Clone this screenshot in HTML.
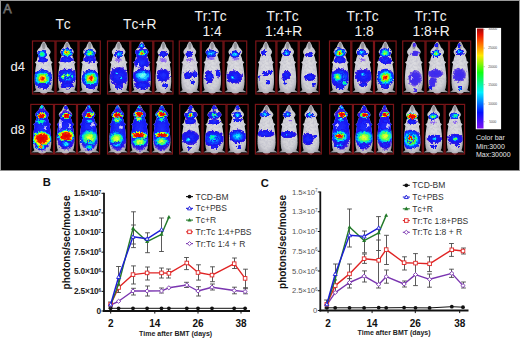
<!DOCTYPE html><html><head><meta charset="utf-8"><style>html,body{margin:0;padding:0;background:#fff;}svg{display:block;} text{font-kerning:none;}</style></head><body><svg width="520" height="342" viewBox="0 0 520 342">
<defs>
<linearGradient id="cbar" x1="0" y1="0" x2="0" y2="1">
<stop offset="0" stop-color="#9a0808"/><stop offset="0.06" stop-color="#e81000"/><stop offset="0.14" stop-color="#ff6000"/>
<stop offset="0.27" stop-color="#ffe800"/><stop offset="0.44" stop-color="#10ff10"/><stop offset="0.64" stop-color="#00f0ff"/>
<stop offset="0.84" stop-color="#0010ff"/><stop offset="1" stop-color="#8010f0"/></linearGradient>
<filter id="rough0" x="-20%" y="-20%" width="140%" height="140%"><feTurbulence type="fractalNoise" baseFrequency="0.45" numOctaves="2" seed="3" result="t"/><feDisplacementMap in="SourceGraphic" in2="t" scale="4" xChannelSelector="R" yChannelSelector="G"/></filter><filter id="rough1" x="-20%" y="-20%" width="140%" height="140%"><feTurbulence type="fractalNoise" baseFrequency="0.45" numOctaves="2" seed="10" result="t"/><feDisplacementMap in="SourceGraphic" in2="t" scale="4" xChannelSelector="R" yChannelSelector="G"/></filter><filter id="rough2" x="-20%" y="-20%" width="140%" height="140%"><feTurbulence type="fractalNoise" baseFrequency="0.45" numOctaves="2" seed="17" result="t"/><feDisplacementMap in="SourceGraphic" in2="t" scale="4" xChannelSelector="R" yChannelSelector="G"/></filter><filter id="rough3" x="-20%" y="-20%" width="140%" height="140%"><feTurbulence type="fractalNoise" baseFrequency="0.45" numOctaves="2" seed="24" result="t"/><feDisplacementMap in="SourceGraphic" in2="t" scale="4" xChannelSelector="R" yChannelSelector="G"/></filter>
<filter id="tex" x="0" y="0" width="100%" height="100%"><feTurbulence type="fractalNoise" baseFrequency="0.45" numOctaves="2" seed="11" result="n"/><feColorMatrix in="n" type="matrix" values="0 0 0 0 0.45  0 0 0 0 0.45  0 0 0 0 0.55  1.2 0 0 0 -0.45" result="nm"/><feComposite in="nm" in2="SourceGraphic" operator="in" result="nc"/><feMerge><feMergeNode in="SourceGraphic"/><feMergeNode in="nc"/></feMerge></filter>
<radialGradient id="red"><stop offset="0" stop-color="#e00000"/><stop offset="0.5" stop-color="#f01000"/><stop offset="0.6" stop-color="#ff8000"/><stop offset="0.68" stop-color="#ffff00"/><stop offset="0.76" stop-color="#40ff40"/><stop offset="0.84" stop-color="#00e0ff"/><stop offset="0.92" stop-color="#1030ff"/><stop offset="1" stop-color="#2010e0" stop-opacity="0"/></radialGradient>
<radialGradient id="hot"><stop offset="0" stop-color="#e00000"/><stop offset="0.15" stop-color="#ff3000"/><stop offset="0.28" stop-color="#ffe000"/><stop offset="0.42" stop-color="#40ff30"/><stop offset="0.56" stop-color="#00e8ff"/><stop offset="0.7" stop-color="#0050ff"/><stop offset="0.88" stop-color="#1818f0"/><stop offset="1" stop-color="#3010e0" stop-opacity="0"/></radialGradient>
<radialGradient id="warm"><stop offset="0" stop-color="#e8ff20"/><stop offset="0.2" stop-color="#80ff30"/><stop offset="0.4" stop-color="#00ffb0"/><stop offset="0.55" stop-color="#00a0ff"/><stop offset="0.7" stop-color="#1030ff"/><stop offset="0.9" stop-color="#1818f0"/><stop offset="1" stop-color="#3010e0" stop-opacity="0"/></radialGradient>
<radialGradient id="yg"><stop offset="0" stop-color="#ffff30"/><stop offset="0.25" stop-color="#c0ff30"/><stop offset="0.45" stop-color="#40ff60"/><stop offset="0.62" stop-color="#00e0e0"/><stop offset="0.78" stop-color="#0060ff"/><stop offset="0.9" stop-color="#1818f0"/><stop offset="1" stop-color="#3010e0" stop-opacity="0"/></radialGradient>
<radialGradient id="wht"><stop offset="0" stop-color="#f4f0f8" stop-opacity="0.95"/><stop offset="0.7" stop-color="#e0d8f0" stop-opacity="0.7"/><stop offset="1" stop-color="#c0b0f0" stop-opacity="0"/></radialGradient>
<radialGradient id="aqua"><stop offset="0" stop-color="#90ffe8"/><stop offset="0.4" stop-color="#40f0ff"/><stop offset="0.75" stop-color="#0090ff"/><stop offset="1" stop-color="#1040ff" stop-opacity="0"/></radialGradient>
<radialGradient id="pb"><stop offset="0" stop-color="#3a28f0"/><stop offset="0.7" stop-color="#4630ea"/><stop offset="0.9" stop-color="#7050e0" stop-opacity="0.8"/><stop offset="1" stop-color="#8060e0" stop-opacity="0"/></radialGradient>
<radialGradient id="green"><stop offset="0" stop-color="#40ff40"/><stop offset="0.3" stop-color="#00ffa0"/><stop offset="0.5" stop-color="#00c0ff"/><stop offset="0.65" stop-color="#1040ff"/><stop offset="0.9" stop-color="#1818f0"/><stop offset="1" stop-color="#3010e0" stop-opacity="0"/></radialGradient>
<radialGradient id="cool"><stop offset="0" stop-color="#60ffff"/><stop offset="0.25" stop-color="#00d0ff"/><stop offset="0.5" stop-color="#0a50ff"/><stop offset="0.75" stop-color="#1418f0"/><stop offset="0.9" stop-color="#2a10e8"/><stop offset="1" stop-color="#3010e0" stop-opacity="0"/></radialGradient>
<radialGradient id="blue"><stop offset="0" stop-color="#2030ff"/><stop offset="0.7" stop-color="#1414f0"/><stop offset="0.9" stop-color="#3010e0" stop-opacity="0.9"/><stop offset="1" stop-color="#5020d0" stop-opacity="0"/></radialGradient>
<radialGradient id="purp"><stop offset="0" stop-color="#8050ff"/><stop offset="0.6" stop-color="#8050f0" stop-opacity="0.7"/><stop offset="1" stop-color="#8050f0" stop-opacity="0"/></radialGradient>
<radialGradient id="body" cx="0.5" cy="0.5" r="0.6"><stop offset="0" stop-color="#dedee2"/><stop offset="0.65" stop-color="#d0d0d6"/><stop offset="1" stop-color="#8a8a90"/></radialGradient>
</defs>
<rect width="520" height="342" fill="#fff"/>
<rect x="0" y="0" width="520" height="1" fill="#9a9a9a"/>
<rect x="0" y="0" width="1" height="171" fill="#9a9a9a"/>
<rect x="1" y="170" width="518" height="1" fill="#8c8c8c"/>
<rect x="519" y="0" width="1" height="171" fill="#9a9a9a"/>
<rect x="1" y="1" width="518" height="169" fill="#000"/>
<text x="3.2" y="13.2" font-size="12.5" font-family="'Liberation Sans', sans-serif" fill="#000" stroke="#7a7a7a" stroke-width="0.75">A</text>
<text x="63.1" y="29.2" font-size="13.8" text-anchor="middle" font-family="'Liberation Sans', sans-serif" fill="#f2f2f2">Tc</text>
<text x="139.8" y="29.2" font-size="13.8" text-anchor="middle" font-family="'Liberation Sans', sans-serif" fill="#f2f2f2">Tc+R</text>
<text x="210.5" y="20.9" font-size="13.8" text-anchor="middle" font-family="'Liberation Sans', sans-serif" fill="#f2f2f2">Tr:Tc</text>
<text x="212" y="36.3" font-size="13.8" text-anchor="middle" font-family="'Liberation Sans', sans-serif" fill="#f2f2f2">1:4</text>
<text x="282.6" y="20.9" font-size="13.8" text-anchor="middle" font-family="'Liberation Sans', sans-serif" fill="#f2f2f2">Tr:Tc</text>
<text x="283.6" y="36.3" font-size="13.8" text-anchor="middle" font-family="'Liberation Sans', sans-serif" fill="#f2f2f2">1:4+R</text>
<text x="362.6" y="20.9" font-size="13.8" text-anchor="middle" font-family="'Liberation Sans', sans-serif" fill="#f2f2f2">Tr:Tc</text>
<text x="364.2" y="36.3" font-size="13.8" text-anchor="middle" font-family="'Liberation Sans', sans-serif" fill="#f2f2f2">1:8</text>
<text x="430.5" y="20.9" font-size="13.8" text-anchor="middle" font-family="'Liberation Sans', sans-serif" fill="#f2f2f2">Tr:Tc</text>
<text x="431.1" y="36.3" font-size="13.8" text-anchor="middle" font-family="'Liberation Sans', sans-serif" fill="#f2f2f2">1:8+R</text>
<text x="10.5" y="71" font-size="13" font-family="'Liberation Sans', sans-serif" fill="#f2f2f2">d4</text>
<text x="10.5" y="133.7" font-size="13" font-family="'Liberation Sans', sans-serif" fill="#f2f2f2">d8</text>
<rect x="475.8" y="27.9" width="25.3" height="101.4" fill="#fff"/>
<rect x="477" y="28.5" width="6.5" height="100" fill="url(#cbar)"/>
<text x="492.7" y="30.4" font-size="3.2" text-anchor="middle" font-family="'Liberation Sans', sans-serif" fill="#444">30000</text>
<line x1="483.5" y1="29.4" x2="485" y2="29.4" stroke="#777" stroke-width="0.4"/>
<text x="492.7" y="49.1" font-size="3.2" text-anchor="middle" font-family="'Liberation Sans', sans-serif" fill="#444">25000</text>
<line x1="483.5" y1="48.1" x2="485" y2="48.1" stroke="#777" stroke-width="0.4"/>
<text x="492.7" y="67.7" font-size="3.2" text-anchor="middle" font-family="'Liberation Sans', sans-serif" fill="#444">20000</text>
<line x1="483.5" y1="66.7" x2="485" y2="66.7" stroke="#777" stroke-width="0.4"/>
<text x="492.7" y="85.6" font-size="3.2" text-anchor="middle" font-family="'Liberation Sans', sans-serif" fill="#444">15000</text>
<line x1="483.5" y1="84.6" x2="485" y2="84.6" stroke="#777" stroke-width="0.4"/>
<text x="492.7" y="105" font-size="3.2" text-anchor="middle" font-family="'Liberation Sans', sans-serif" fill="#444">10000</text>
<line x1="483.5" y1="104" x2="485" y2="104" stroke="#777" stroke-width="0.4"/>
<text x="492.7" y="122.7" font-size="3.2" text-anchor="middle" font-family="'Liberation Sans', sans-serif" fill="#444">5000</text>
<line x1="483.5" y1="121.7" x2="485" y2="121.7" stroke="#777" stroke-width="0.4"/>
<text x="476" y="139.8" font-size="7" font-family="'Liberation Sans', sans-serif" fill="#e8e8e8">Color bar</text>
<text x="476" y="148.6" font-size="7" font-family="'Liberation Sans', sans-serif" fill="#e8e8e8">Min:3000</text>
<text x="476" y="157.4" font-size="7" font-family="'Liberation Sans', sans-serif" fill="#e8e8e8">Max:30000</text>
<clipPath id="mclip"><path d="M 11.5 0.6 C 12.7 1.6 14.2 4 14.9 6.5 C 16 7.8 17.8 9.3 18.2 11 C 18.3 12.5 17.5 13.6 16.6 14.5 C 17.6 16.5 18.2 18.5 18.4 20.5 L 20.2 21.8 L 18.8 23.5 C 19.7 28 20.4 34 20.4 40 C 20.4 44 20 47 19 49.5 L 22.3 51.8 L 15.5 51.5 L 12.2 54 L 10.8 54 L 7.5 51.5 L 0.7 51.8 L 4 49.5 C 3 47 2.6 44 2.6 40 C 2.6 34 3.3 28 4.2 23.5 L 2.8 21.8 L 4.6 20.5 C 4.8 18.5 5.4 16.5 6.4 14.5 C 5.5 13.6 4.7 12.5 4.8 11 C 5.2 9.3 7 7.8 8.1 6.5 C 8.8 4 10.3 1.6 11.5 0.6 Z"/></clipPath>
<g transform="translate(32.00,40.50) scale(1.022,1.000)">
<path d="M 11.5 0.6 C 12.7 1.6 14.2 4 14.9 6.5 C 16 7.8 17.8 9.3 18.2 11 C 18.3 12.5 17.5 13.6 16.6 14.5 C 17.6 16.5 18.2 18.5 18.4 20.5 L 20.2 21.8 L 18.8 23.5 C 19.7 28 20.4 34 20.4 40 C 20.4 44 20 47 19 49.5 L 22.3 51.8 L 15.5 51.5 L 12.2 54 L 10.8 54 L 7.5 51.5 L 0.7 51.8 L 4 49.5 C 3 47 2.6 44 2.6 40 C 2.6 34 3.3 28 4.2 23.5 L 2.8 21.8 L 4.6 20.5 C 4.8 18.5 5.4 16.5 6.4 14.5 C 5.5 13.6 4.7 12.5 4.8 11 C 5.2 9.3 7 7.8 8.1 6.5 C 8.8 4 10.3 1.6 11.5 0.6 Z" fill="url(#body)" filter="url(#tex)"/>
<g clip-path="url(#mclip)">
<ellipse cx="11.5" cy="5.5" rx="1.6" ry="3.2" fill="#6a6a70" opacity="0.55"/>
<g filter="url(#rough0)">
<ellipse cx="9.79" cy="13.7" rx="5.14" ry="4.75" fill="url(#green)"/>
<ellipse cx="10.77" cy="19.5" rx="5.38" ry="2.75" fill="url(#blue)"/>
<ellipse cx="10.28" cy="38" rx="10.23" ry="9.90" fill="url(#hot)"/>
<ellipse cx="10.77" cy="45.5" rx="6.46" ry="3.30" fill="url(#blue)"/>
</g></g></g>
<g transform="translate(55.50,40.50) scale(1.000,1.000)">
<path d="M 11.5 0.6 C 12.7 1.6 14.2 4 14.9 6.5 C 16 7.8 17.8 9.3 18.2 11 C 18.3 12.5 17.5 13.6 16.6 14.5 C 17.6 16.5 18.2 18.5 18.4 20.5 L 20.2 21.8 L 18.8 23.5 C 19.7 28 20.4 34 20.4 40 C 20.4 44 20 47 19 49.5 L 22.3 51.8 L 15.5 51.5 L 12.2 54 L 10.8 54 L 7.5 51.5 L 0.7 51.8 L 4 49.5 C 3 47 2.6 44 2.6 40 C 2.6 34 3.3 28 4.2 23.5 L 2.8 21.8 L 4.6 20.5 C 4.8 18.5 5.4 16.5 6.4 14.5 C 5.5 13.6 4.7 12.5 4.8 11 C 5.2 9.3 7 7.8 8.1 6.5 C 8.8 4 10.3 1.6 11.5 0.6 Z" fill="url(#body)" filter="url(#tex)"/>
<g clip-path="url(#mclip)">
<ellipse cx="11.5" cy="5.5" rx="1.6" ry="3.2" fill="#6a6a70" opacity="0.55"/>
<g filter="url(#rough1)">
<ellipse cx="11.50" cy="12.2" rx="6.25" ry="5.00" fill="url(#hot)"/>
<ellipse cx="11.50" cy="19" rx="7.70" ry="3.30" fill="url(#blue)"/>
<ellipse cx="12.00" cy="36" rx="10.45" ry="8.25" fill="url(#cool)"/>
<ellipse cx="8.00" cy="36" rx="3.30" ry="3.30" fill="url(#warm)"/>
<ellipse cx="12.00" cy="35" rx="3.30" ry="2.75" fill="url(#warm)"/>
<ellipse cx="17.00" cy="36" rx="2.75" ry="2.75" fill="url(#green)"/>
<ellipse cx="11.50" cy="45" rx="7.15" ry="3.30" fill="url(#blue)"/>
</g></g></g>
<g transform="translate(78.50,40.50) scale(0.970,1.000)">
<path d="M 11.5 0.6 C 12.7 1.6 14.2 4 14.9 6.5 C 16 7.8 17.8 9.3 18.2 11 C 18.3 12.5 17.5 13.6 16.6 14.5 C 17.6 16.5 18.2 18.5 18.4 20.5 L 20.2 21.8 L 18.8 23.5 C 19.7 28 20.4 34 20.4 40 C 20.4 44 20 47 19 49.5 L 22.3 51.8 L 15.5 51.5 L 12.2 54 L 10.8 54 L 7.5 51.5 L 0.7 51.8 L 4 49.5 C 3 47 2.6 44 2.6 40 C 2.6 34 3.3 28 4.2 23.5 L 2.8 21.8 L 4.6 20.5 C 4.8 18.5 5.4 16.5 6.4 14.5 C 5.5 13.6 4.7 12.5 4.8 11 C 5.2 9.3 7 7.8 8.1 6.5 C 8.8 4 10.3 1.6 11.5 0.6 Z" fill="url(#body)" filter="url(#tex)"/>
<g clip-path="url(#mclip)">
<ellipse cx="11.5" cy="5.5" rx="1.6" ry="3.2" fill="#6a6a70" opacity="0.55"/>
<g filter="url(#rough2)">
<ellipse cx="11.65" cy="12.9" rx="6.45" ry="4.75" fill="url(#warm)"/>
<ellipse cx="11.86" cy="19" rx="7.37" ry="3.30" fill="url(#blue)"/>
<ellipse cx="12.79" cy="38" rx="10.21" ry="9.35" fill="url(#hot)"/>
<ellipse cx="12.38" cy="46" rx="5.67" ry="2.75" fill="url(#blue)"/>
</g></g></g>
<g transform="translate(107.00,40.50) scale(1.013,1.000)">
<path d="M 11.5 0.6 C 12.7 1.6 14.2 4 14.9 6.5 C 16 7.8 17.8 9.3 18.2 11 C 18.3 12.5 17.5 13.6 16.6 14.5 C 17.6 16.5 18.2 18.5 18.4 20.5 L 20.2 21.8 L 18.8 23.5 C 19.7 28 20.4 34 20.4 40 C 20.4 44 20 47 19 49.5 L 22.3 51.8 L 15.5 51.5 L 12.2 54 L 10.8 54 L 7.5 51.5 L 0.7 51.8 L 4 49.5 C 3 47 2.6 44 2.6 40 C 2.6 34 3.3 28 4.2 23.5 L 2.8 21.8 L 4.6 20.5 C 4.8 18.5 5.4 16.5 6.4 14.5 C 5.5 13.6 4.7 12.5 4.8 11 C 5.2 9.3 7 7.8 8.1 6.5 C 8.8 4 10.3 1.6 11.5 0.6 Z" fill="url(#body)" filter="url(#tex)"/>
<g clip-path="url(#mclip)">
<ellipse cx="11.5" cy="5.5" rx="1.6" ry="3.2" fill="#6a6a70" opacity="0.55"/>
<g filter="url(#rough3)">
<ellipse cx="11.85" cy="13.7" rx="4.44" ry="4.00" fill="url(#cool)"/>
<ellipse cx="10.86" cy="19.5" rx="4.34" ry="2.75" fill="url(#purp)"/>
<ellipse cx="11.85" cy="36" rx="9.77" ry="9.90" fill="url(#blue)"/>
<ellipse cx="9.87" cy="33" rx="2.71" ry="2.20" fill="url(#cool)"/>
<ellipse cx="13.82" cy="37" rx="2.17" ry="2.20" fill="url(#cool)"/>
<ellipse cx="11.85" cy="46" rx="4.34" ry="2.75" fill="url(#blue)"/>
</g></g></g>
<g transform="translate(130.30,40.50) scale(1.000,1.000)">
<path d="M 11.5 0.6 C 12.7 1.6 14.2 4 14.9 6.5 C 16 7.8 17.8 9.3 18.2 11 C 18.3 12.5 17.5 13.6 16.6 14.5 C 17.6 16.5 18.2 18.5 18.4 20.5 L 20.2 21.8 L 18.8 23.5 C 19.7 28 20.4 34 20.4 40 C 20.4 44 20 47 19 49.5 L 22.3 51.8 L 15.5 51.5 L 12.2 54 L 10.8 54 L 7.5 51.5 L 0.7 51.8 L 4 49.5 C 3 47 2.6 44 2.6 40 C 2.6 34 3.3 28 4.2 23.5 L 2.8 21.8 L 4.6 20.5 C 4.8 18.5 5.4 16.5 6.4 14.5 C 5.5 13.6 4.7 12.5 4.8 11 C 5.2 9.3 7 7.8 8.1 6.5 C 8.8 4 10.3 1.6 11.5 0.6 Z" fill="url(#body)" filter="url(#tex)"/>
<g clip-path="url(#mclip)">
<ellipse cx="11.5" cy="5.5" rx="1.6" ry="3.2" fill="#6a6a70" opacity="0.55"/>
<g filter="url(#rough0)">
<ellipse cx="11.30" cy="5.2" rx="3.52" ry="3.30" fill="url(#cool)"/>
<ellipse cx="11.50" cy="13" rx="10.00" ry="5.00" fill="url(#blue)"/>
<ellipse cx="12.00" cy="12.5" rx="5.62" ry="3.75" fill="url(#hot)"/>
<ellipse cx="11.50" cy="22" rx="8.80" ry="6.60" fill="url(#blue)"/>
<ellipse cx="12.50" cy="36" rx="10.45" ry="8.80" fill="url(#cool)"/>
<ellipse cx="12.00" cy="35" rx="7.70" ry="4.95" fill="url(#aqua)"/>
<ellipse cx="12.00" cy="45" rx="8.80" ry="4.40" fill="url(#blue)"/>
<ellipse cx="8.00" cy="25" rx="2.00" ry="2.50" fill="url(#wht)"/>
<ellipse cx="15.00" cy="27" rx="2.00" ry="2.00" fill="url(#wht)"/>
</g></g></g>
<g transform="translate(153.30,40.50) scale(0.878,1.000)">
<path d="M 11.5 0.6 C 12.7 1.6 14.2 4 14.9 6.5 C 16 7.8 17.8 9.3 18.2 11 C 18.3 12.5 17.5 13.6 16.6 14.5 C 17.6 16.5 18.2 18.5 18.4 20.5 L 20.2 21.8 L 18.8 23.5 C 19.7 28 20.4 34 20.4 40 C 20.4 44 20 47 19 49.5 L 22.3 51.8 L 15.5 51.5 L 12.2 54 L 10.8 54 L 7.5 51.5 L 0.7 51.8 L 4 49.5 C 3 47 2.6 44 2.6 40 C 2.6 34 3.3 28 4.2 23.5 L 2.8 21.8 L 4.6 20.5 C 4.8 18.5 5.4 16.5 6.4 14.5 C 5.5 13.6 4.7 12.5 4.8 11 C 5.2 9.3 7 7.8 8.1 6.5 C 8.8 4 10.3 1.6 11.5 0.6 Z" fill="url(#body)" filter="url(#tex)"/>
<g clip-path="url(#mclip)">
<ellipse cx="11.5" cy="5.5" rx="1.6" ry="3.2" fill="#6a6a70" opacity="0.55"/>
<g filter="url(#rough1)">
<ellipse cx="11.39" cy="13.7" rx="5.12" ry="3.38" fill="url(#blue)"/>
<ellipse cx="11.39" cy="19.5" rx="5.01" ry="2.75" fill="url(#purp)"/>
<ellipse cx="11.39" cy="35" rx="8.14" ry="7.15" fill="url(#blue)"/>
<ellipse cx="13.66" cy="45" rx="3.76" ry="2.75" fill="url(#blue)"/>
</g></g></g>
<g transform="translate(178.80,40.50) scale(0.957,1.000)">
<path d="M 11.5 0.6 C 12.7 1.6 14.2 4 14.9 6.5 C 16 7.8 17.8 9.3 18.2 11 C 18.3 12.5 17.5 13.6 16.6 14.5 C 17.6 16.5 18.2 18.5 18.4 20.5 L 20.2 21.8 L 18.8 23.5 C 19.7 28 20.4 34 20.4 40 C 20.4 44 20 47 19 49.5 L 22.3 51.8 L 15.5 51.5 L 12.2 54 L 10.8 54 L 7.5 51.5 L 0.7 51.8 L 4 49.5 C 3 47 2.6 44 2.6 40 C 2.6 34 3.3 28 4.2 23.5 L 2.8 21.8 L 4.6 20.5 C 4.8 18.5 5.4 16.5 6.4 14.5 C 5.5 13.6 4.7 12.5 4.8 11 C 5.2 9.3 7 7.8 8.1 6.5 C 8.8 4 10.3 1.6 11.5 0.6 Z" fill="url(#body)" filter="url(#tex)"/>
<g clip-path="url(#mclip)">
<ellipse cx="11.5" cy="5.5" rx="1.6" ry="3.2" fill="#6a6a70" opacity="0.55"/>
<g filter="url(#rough2)">
<ellipse cx="10.98" cy="13.7" rx="4.31" ry="3.12" fill="url(#blue)"/>
<ellipse cx="11.50" cy="19.5" rx="4.60" ry="2.20" fill="url(#purp)"/>
<ellipse cx="10.04" cy="34.6" rx="4.83" ry="4.07" fill="url(#blue)"/>
<ellipse cx="16.73" cy="33.8" rx="3.11" ry="3.30" fill="url(#blue)"/>
<ellipse cx="14.74" cy="42.1" rx="2.53" ry="2.42" fill="url(#blue)"/>
<ellipse cx="7.53" cy="37" rx="1.73" ry="1.65" fill="url(#blue)"/>
</g></g></g>
<g transform="translate(200.80,40.50) scale(0.987,1.000)">
<path d="M 11.5 0.6 C 12.7 1.6 14.2 4 14.9 6.5 C 16 7.8 17.8 9.3 18.2 11 C 18.3 12.5 17.5 13.6 16.6 14.5 C 17.6 16.5 18.2 18.5 18.4 20.5 L 20.2 21.8 L 18.8 23.5 C 19.7 28 20.4 34 20.4 40 C 20.4 44 20 47 19 49.5 L 22.3 51.8 L 15.5 51.5 L 12.2 54 L 10.8 54 L 7.5 51.5 L 0.7 51.8 L 4 49.5 C 3 47 2.6 44 2.6 40 C 2.6 34 3.3 28 4.2 23.5 L 2.8 21.8 L 4.6 20.5 C 4.8 18.5 5.4 16.5 6.4 14.5 C 5.5 13.6 4.7 12.5 4.8 11 C 5.2 9.3 7 7.8 8.1 6.5 C 8.8 4 10.3 1.6 11.5 0.6 Z" fill="url(#body)" filter="url(#tex)"/>
<g clip-path="url(#mclip)">
<ellipse cx="11.5" cy="5.5" rx="1.6" ry="3.2" fill="#6a6a70" opacity="0.55"/>
<g filter="url(#rough3)">
<ellipse cx="10.23" cy="12.9" rx="6.33" ry="4.12" fill="url(#cool)"/>
<ellipse cx="10.23" cy="17.7" rx="4.46" ry="2.20" fill="url(#purp)"/>
<ellipse cx="8.61" cy="36.2" rx="4.68" ry="6.82" fill="url(#blue)"/>
<ellipse cx="17.63" cy="33" rx="2.79" ry="4.40" fill="url(#blue)"/>
</g></g></g>
<g transform="translate(223.50,40.50) scale(1.030,1.000)">
<path d="M 11.5 0.6 C 12.7 1.6 14.2 4 14.9 6.5 C 16 7.8 17.8 9.3 18.2 11 C 18.3 12.5 17.5 13.6 16.6 14.5 C 17.6 16.5 18.2 18.5 18.4 20.5 L 20.2 21.8 L 18.8 23.5 C 19.7 28 20.4 34 20.4 40 C 20.4 44 20 47 19 49.5 L 22.3 51.8 L 15.5 51.5 L 12.2 54 L 10.8 54 L 7.5 51.5 L 0.7 51.8 L 4 49.5 C 3 47 2.6 44 2.6 40 C 2.6 34 3.3 28 4.2 23.5 L 2.8 21.8 L 4.6 20.5 C 4.8 18.5 5.4 16.5 6.4 14.5 C 5.5 13.6 4.7 12.5 4.8 11 C 5.2 9.3 7 7.8 8.1 6.5 C 8.8 4 10.3 1.6 11.5 0.6 Z" fill="url(#body)" filter="url(#tex)"/>
<g clip-path="url(#mclip)">
<ellipse cx="11.5" cy="5.5" rx="1.6" ry="3.2" fill="#6a6a70" opacity="0.55"/>
<g filter="url(#rough0)">
<ellipse cx="11.26" cy="13.7" rx="5.22" ry="4.00" fill="url(#cool)"/>
<ellipse cx="11.26" cy="18.5" rx="3.74" ry="1.98" fill="url(#purp)"/>
<ellipse cx="10.48" cy="36.6" rx="8.01" ry="7.15" fill="url(#blue)"/>
<ellipse cx="8.73" cy="37" rx="2.67" ry="2.75" fill="url(#cool)"/>
</g></g></g>
<g transform="translate(255.30,40.50) scale(0.917,1.000)">
<path d="M 11.5 0.6 C 12.7 1.6 14.2 4 14.9 6.5 C 16 7.8 17.8 9.3 18.2 11 C 18.3 12.5 17.5 13.6 16.6 14.5 C 17.6 16.5 18.2 18.5 18.4 20.5 L 20.2 21.8 L 18.8 23.5 C 19.7 28 20.4 34 20.4 40 C 20.4 44 20 47 19 49.5 L 22.3 51.8 L 15.5 51.5 L 12.2 54 L 10.8 54 L 7.5 51.5 L 0.7 51.8 L 4 49.5 C 3 47 2.6 44 2.6 40 C 2.6 34 3.3 28 4.2 23.5 L 2.8 21.8 L 4.6 20.5 C 4.8 18.5 5.4 16.5 6.4 14.5 C 5.5 13.6 4.7 12.5 4.8 11 C 5.2 9.3 7 7.8 8.1 6.5 C 8.8 4 10.3 1.6 11.5 0.6 Z" fill="url(#body)" filter="url(#tex)"/>
<g clip-path="url(#mclip)">
<ellipse cx="11.5" cy="5.5" rx="1.6" ry="3.2" fill="#6a6a70" opacity="0.55"/>
<g filter="url(#rough1)">
<ellipse cx="9.59" cy="12.1" rx="3.54" ry="2.62" fill="url(#blue)"/>
<ellipse cx="10.57" cy="33" rx="3.84" ry="2.97" fill="url(#blue)"/>
<ellipse cx="16.13" cy="31.4" rx="2.64" ry="2.42" fill="url(#blue)"/>
<ellipse cx="4.36" cy="37" rx="1.80" ry="2.20" fill="url(#blue)"/>
<ellipse cx="14.06" cy="41.8" rx="2.64" ry="2.42" fill="url(#blue)"/>
</g></g></g>
<g transform="translate(276.40,40.50) scale(0.970,1.000)">
<path d="M 11.5 0.6 C 12.7 1.6 14.2 4 14.9 6.5 C 16 7.8 17.8 9.3 18.2 11 C 18.3 12.5 17.5 13.6 16.6 14.5 C 17.6 16.5 18.2 18.5 18.4 20.5 L 20.2 21.8 L 18.8 23.5 C 19.7 28 20.4 34 20.4 40 C 20.4 44 20 47 19 49.5 L 22.3 51.8 L 15.5 51.5 L 12.2 54 L 10.8 54 L 7.5 51.5 L 0.7 51.8 L 4 49.5 C 3 47 2.6 44 2.6 40 C 2.6 34 3.3 28 4.2 23.5 L 2.8 21.8 L 4.6 20.5 C 4.8 18.5 5.4 16.5 6.4 14.5 C 5.5 13.6 4.7 12.5 4.8 11 C 5.2 9.3 7 7.8 8.1 6.5 C 8.8 4 10.3 1.6 11.5 0.6 Z" fill="url(#body)" filter="url(#tex)"/>
<g clip-path="url(#mclip)">
<ellipse cx="11.5" cy="5.5" rx="1.6" ry="3.2" fill="#6a6a70" opacity="0.55"/>
<g filter="url(#rough2)">
<ellipse cx="10.42" cy="12.5" rx="4.64" ry="3.25" fill="url(#cool)"/>
<ellipse cx="10.42" cy="34.6" rx="4.77" ry="4.62" fill="url(#blue)"/>
<ellipse cx="7.94" cy="38.6" rx="2.95" ry="2.86" fill="url(#blue)"/>
<ellipse cx="8.77" cy="42.6" rx="1.82" ry="1.76" fill="url(#blue)"/>
</g></g></g>
<g transform="translate(298.70,40.50) scale(0.917,1.000)">
<path d="M 11.5 0.6 C 12.7 1.6 14.2 4 14.9 6.5 C 16 7.8 17.8 9.3 18.2 11 C 18.3 12.5 17.5 13.6 16.6 14.5 C 17.6 16.5 18.2 18.5 18.4 20.5 L 20.2 21.8 L 18.8 23.5 C 19.7 28 20.4 34 20.4 40 C 20.4 44 20 47 19 49.5 L 22.3 51.8 L 15.5 51.5 L 12.2 54 L 10.8 54 L 7.5 51.5 L 0.7 51.8 L 4 49.5 C 3 47 2.6 44 2.6 40 C 2.6 34 3.3 28 4.2 23.5 L 2.8 21.8 L 4.6 20.5 C 4.8 18.5 5.4 16.5 6.4 14.5 C 5.5 13.6 4.7 12.5 4.8 11 C 5.2 9.3 7 7.8 8.1 6.5 C 8.8 4 10.3 1.6 11.5 0.6 Z" fill="url(#body)" filter="url(#tex)"/>
<g clip-path="url(#mclip)">
<ellipse cx="11.5" cy="5.5" rx="1.6" ry="3.2" fill="#6a6a70" opacity="0.55"/>
<g filter="url(#rough3)">
<ellipse cx="11.88" cy="14.2" rx="4.36" ry="2.62" fill="url(#blue)"/>
<ellipse cx="12.32" cy="36.7" rx="6.59" ry="4.07" fill="url(#blue)"/>
<ellipse cx="16.13" cy="44.2" rx="2.52" ry="2.31" fill="url(#blue)"/>
</g></g></g>
<g transform="translate(329.00,40.50) scale(0.970,1.000)">
<path d="M 11.5 0.6 C 12.7 1.6 14.2 4 14.9 6.5 C 16 7.8 17.8 9.3 18.2 11 C 18.3 12.5 17.5 13.6 16.6 14.5 C 17.6 16.5 18.2 18.5 18.4 20.5 L 20.2 21.8 L 18.8 23.5 C 19.7 28 20.4 34 20.4 40 C 20.4 44 20 47 19 49.5 L 22.3 51.8 L 15.5 51.5 L 12.2 54 L 10.8 54 L 7.5 51.5 L 0.7 51.8 L 4 49.5 C 3 47 2.6 44 2.6 40 C 2.6 34 3.3 28 4.2 23.5 L 2.8 21.8 L 4.6 20.5 C 4.8 18.5 5.4 16.5 6.4 14.5 C 5.5 13.6 4.7 12.5 4.8 11 C 5.2 9.3 7 7.8 8.1 6.5 C 8.8 4 10.3 1.6 11.5 0.6 Z" fill="url(#body)" filter="url(#tex)"/>
<g clip-path="url(#mclip)">
<ellipse cx="11.5" cy="5.5" rx="1.6" ry="3.2" fill="#6a6a70" opacity="0.55"/>
<g filter="url(#rough0)">
<ellipse cx="10.83" cy="12.5" rx="6.70" ry="5.00" fill="url(#hot)"/>
<ellipse cx="10.83" cy="19.5" rx="6.81" ry="3.85" fill="url(#blue)"/>
<ellipse cx="11.35" cy="37" rx="10.78" ry="9.90" fill="url(#cool)"/>
<ellipse cx="8.77" cy="36.5" rx="6.81" ry="6.05" fill="url(#warm)"/>
<ellipse cx="15.78" cy="42.6" rx="3.40" ry="3.30" fill="url(#green)"/>
<ellipse cx="11.35" cy="47" rx="5.67" ry="2.20" fill="url(#blue)"/>
</g></g></g>
<g transform="translate(351.30,40.50) scale(0.987,1.000)">
<path d="M 11.5 0.6 C 12.7 1.6 14.2 4 14.9 6.5 C 16 7.8 17.8 9.3 18.2 11 C 18.3 12.5 17.5 13.6 16.6 14.5 C 17.6 16.5 18.2 18.5 18.4 20.5 L 20.2 21.8 L 18.8 23.5 C 19.7 28 20.4 34 20.4 40 C 20.4 44 20 47 19 49.5 L 22.3 51.8 L 15.5 51.5 L 12.2 54 L 10.8 54 L 7.5 51.5 L 0.7 51.8 L 4 49.5 C 3 47 2.6 44 2.6 40 C 2.6 34 3.3 28 4.2 23.5 L 2.8 21.8 L 4.6 20.5 C 4.8 18.5 5.4 16.5 6.4 14.5 C 5.5 13.6 4.7 12.5 4.8 11 C 5.2 9.3 7 7.8 8.1 6.5 C 8.8 4 10.3 1.6 11.5 0.6 Z" fill="url(#body)" filter="url(#tex)"/>
<g clip-path="url(#mclip)">
<ellipse cx="11.5" cy="5.5" rx="1.6" ry="3.2" fill="#6a6a70" opacity="0.55"/>
<g filter="url(#rough1)">
<ellipse cx="10.74" cy="12" rx="5.70" ry="3.50" fill="url(#cool)"/>
<ellipse cx="11.55" cy="19.3" rx="3.34" ry="1.65" fill="url(#purp)"/>
<ellipse cx="12.46" cy="35.4" rx="9.47" ry="7.48" fill="url(#blue)"/>
<ellipse cx="11.55" cy="33.8" rx="3.34" ry="3.30" fill="url(#cool)"/>
<ellipse cx="12.16" cy="44" rx="4.46" ry="2.75" fill="url(#blue)"/>
</g></g></g>
<g transform="translate(374.00,40.50) scale(0.983,1.000)">
<path d="M 11.5 0.6 C 12.7 1.6 14.2 4 14.9 6.5 C 16 7.8 17.8 9.3 18.2 11 C 18.3 12.5 17.5 13.6 16.6 14.5 C 17.6 16.5 18.2 18.5 18.4 20.5 L 20.2 21.8 L 18.8 23.5 C 19.7 28 20.4 34 20.4 40 C 20.4 44 20 47 19 49.5 L 22.3 51.8 L 15.5 51.5 L 12.2 54 L 10.8 54 L 7.5 51.5 L 0.7 51.8 L 4 49.5 C 3 47 2.6 44 2.6 40 C 2.6 34 3.3 28 4.2 23.5 L 2.8 21.8 L 4.6 20.5 C 4.8 18.5 5.4 16.5 6.4 14.5 C 5.5 13.6 4.7 12.5 4.8 11 C 5.2 9.3 7 7.8 8.1 6.5 C 8.8 4 10.3 1.6 11.5 0.6 Z" fill="url(#body)" filter="url(#tex)"/>
<g clip-path="url(#mclip)">
<ellipse cx="11.5" cy="5.5" rx="1.6" ry="3.2" fill="#6a6a70" opacity="0.55"/>
<g filter="url(#rough2)">
<ellipse cx="11.09" cy="12.5" rx="6.62" ry="5.00" fill="url(#warm)"/>
<ellipse cx="11.70" cy="20" rx="7.28" ry="3.85" fill="url(#blue)"/>
<ellipse cx="11.70" cy="37" rx="9.52" ry="9.35" fill="url(#hot)"/>
<ellipse cx="11.19" cy="46" rx="4.48" ry="2.75" fill="url(#blue)"/>
</g></g></g>
<g transform="translate(402.20,40.50) scale(1.013,1.000)">
<path d="M 11.5 0.6 C 12.7 1.6 14.2 4 14.9 6.5 C 16 7.8 17.8 9.3 18.2 11 C 18.3 12.5 17.5 13.6 16.6 14.5 C 17.6 16.5 18.2 18.5 18.4 20.5 L 20.2 21.8 L 18.8 23.5 C 19.7 28 20.4 34 20.4 40 C 20.4 44 20 47 19 49.5 L 22.3 51.8 L 15.5 51.5 L 12.2 54 L 10.8 54 L 7.5 51.5 L 0.7 51.8 L 4 49.5 C 3 47 2.6 44 2.6 40 C 2.6 34 3.3 28 4.2 23.5 L 2.8 21.8 L 4.6 20.5 C 4.8 18.5 5.4 16.5 6.4 14.5 C 5.5 13.6 4.7 12.5 4.8 11 C 5.2 9.3 7 7.8 8.1 6.5 C 8.8 4 10.3 1.6 11.5 0.6 Z" fill="url(#body)" filter="url(#tex)"/>
<g clip-path="url(#mclip)">
<ellipse cx="11.5" cy="5.5" rx="1.6" ry="3.2" fill="#6a6a70" opacity="0.55"/>
<g filter="url(#rough3)">
<ellipse cx="11.85" cy="4.8" rx="1.74" ry="2.75" fill="url(#pb)"/>
<ellipse cx="12.73" cy="12.9" rx="4.94" ry="3.12" fill="url(#pb)"/>
<ellipse cx="12.73" cy="37.8" rx="7.06" ry="8.80" fill="url(#pb)"/>
<ellipse cx="12.73" cy="49.9" rx="2.17" ry="2.20" fill="url(#pb)"/>
<ellipse cx="9.87" cy="38" rx="1.48" ry="2.00" fill="url(#wht)"/>
</g></g></g>
<g transform="translate(425.50,40.50) scale(1.022,1.000)">
<path d="M 11.5 0.6 C 12.7 1.6 14.2 4 14.9 6.5 C 16 7.8 17.8 9.3 18.2 11 C 18.3 12.5 17.5 13.6 16.6 14.5 C 17.6 16.5 18.2 18.5 18.4 20.5 L 20.2 21.8 L 18.8 23.5 C 19.7 28 20.4 34 20.4 40 C 20.4 44 20 47 19 49.5 L 22.3 51.8 L 15.5 51.5 L 12.2 54 L 10.8 54 L 7.5 51.5 L 0.7 51.8 L 4 49.5 C 3 47 2.6 44 2.6 40 C 2.6 34 3.3 28 4.2 23.5 L 2.8 21.8 L 4.6 20.5 C 4.8 18.5 5.4 16.5 6.4 14.5 C 5.5 13.6 4.7 12.5 4.8 11 C 5.2 9.3 7 7.8 8.1 6.5 C 8.8 4 10.3 1.6 11.5 0.6 Z" fill="url(#body)" filter="url(#tex)"/>
<g clip-path="url(#mclip)">
<ellipse cx="11.5" cy="5.5" rx="1.6" ry="3.2" fill="#6a6a70" opacity="0.55"/>
<g filter="url(#rough0)">
<ellipse cx="10.28" cy="4.8" rx="2.69" ry="2.75" fill="url(#blue)"/>
<ellipse cx="10.28" cy="12.9" rx="5.14" ry="4.12" fill="url(#warm)"/>
<ellipse cx="9.49" cy="33" rx="8.61" ry="4.95" fill="url(#pb)"/>
<ellipse cx="7.05" cy="41.8" rx="4.31" ry="5.50" fill="url(#pb)"/>
<ellipse cx="4.70" cy="46.7" rx="2.15" ry="2.20" fill="url(#blue)"/>
</g></g></g>
<g transform="translate(449.00,40.50) scale(0.965,1.000)">
<path d="M 11.5 0.6 C 12.7 1.6 14.2 4 14.9 6.5 C 16 7.8 17.8 9.3 18.2 11 C 18.3 12.5 17.5 13.6 16.6 14.5 C 17.6 16.5 18.2 18.5 18.4 20.5 L 20.2 21.8 L 18.8 23.5 C 19.7 28 20.4 34 20.4 40 C 20.4 44 20 47 19 49.5 L 22.3 51.8 L 15.5 51.5 L 12.2 54 L 10.8 54 L 7.5 51.5 L 0.7 51.8 L 4 49.5 C 3 47 2.6 44 2.6 40 C 2.6 34 3.3 28 4.2 23.5 L 2.8 21.8 L 4.6 20.5 C 4.8 18.5 5.4 16.5 6.4 14.5 C 5.5 13.6 4.7 12.5 4.8 11 C 5.2 9.3 7 7.8 8.1 6.5 C 8.8 4 10.3 1.6 11.5 0.6 Z" fill="url(#body)" filter="url(#tex)"/>
<g clip-path="url(#mclip)">
<ellipse cx="11.5" cy="5.5" rx="1.6" ry="3.2" fill="#6a6a70" opacity="0.55"/>
<g filter="url(#rough1)">
<ellipse cx="10.67" cy="4.8" rx="2.28" ry="2.20" fill="url(#blue)"/>
<ellipse cx="11.19" cy="11.6" rx="4.66" ry="3.25" fill="url(#cool)"/>
<ellipse cx="10.67" cy="34.6" rx="7.41" ry="7.70" fill="url(#pb)"/>
<ellipse cx="11.50" cy="47.5" rx="2.51" ry="2.42" fill="url(#cool)"/>
</g></g></g>
<g transform="translate(30.30,103.90) scale(1.030,0.937)">
<path d="M 11.5 0.6 C 12.7 1.6 14.2 4 14.9 6.5 C 16 7.8 17.8 9.3 18.2 11 C 18.3 12.5 17.5 13.6 16.6 14.5 C 17.6 16.5 18.2 18.5 18.4 20.5 L 20.2 21.8 L 18.8 23.5 C 19.7 28 20.4 34 20.4 40 C 20.4 44 20 47 19 49.5 L 22.3 51.8 L 15.5 51.5 L 12.2 54 L 10.8 54 L 7.5 51.5 L 0.7 51.8 L 4 49.5 C 3 47 2.6 44 2.6 40 C 2.6 34 3.3 28 4.2 23.5 L 2.8 21.8 L 4.6 20.5 C 4.8 18.5 5.4 16.5 6.4 14.5 C 5.5 13.6 4.7 12.5 4.8 11 C 5.2 9.3 7 7.8 8.1 6.5 C 8.8 4 10.3 1.6 11.5 0.6 Z" fill="url(#body)" filter="url(#tex)"/>
<g clip-path="url(#mclip)">
<ellipse cx="11.5" cy="5.5" rx="1.6" ry="3.2" fill="#6a6a70" opacity="0.55"/>
<g filter="url(#rough2)">
<ellipse cx="11.16" cy="27" rx="10.68" ry="24.20" fill="url(#blue)"/>
<ellipse cx="10.87" cy="3.2" rx="2.35" ry="3.30" fill="url(#green)"/>
<ellipse cx="10.87" cy="10.5" rx="10.92" ry="3.75" fill="url(#blue)"/>
<ellipse cx="10.87" cy="12.8" rx="5.46" ry="4.12" fill="url(#red)"/>
<ellipse cx="10.09" cy="19" rx="6.41" ry="3.85" fill="url(#green)"/>
<ellipse cx="11.16" cy="37" rx="10.14" ry="8.80" fill="url(#red)"/>
<ellipse cx="10.09" cy="46" rx="5.34" ry="3.30" fill="url(#hot)"/>
<ellipse cx="14.56" cy="26" rx="1.94" ry="2.50" fill="url(#wht)"/>
</g></g></g>
<g transform="translate(54.00,103.90) scale(1.000,0.937)">
<path d="M 11.5 0.6 C 12.7 1.6 14.2 4 14.9 6.5 C 16 7.8 17.8 9.3 18.2 11 C 18.3 12.5 17.5 13.6 16.6 14.5 C 17.6 16.5 18.2 18.5 18.4 20.5 L 20.2 21.8 L 18.8 23.5 C 19.7 28 20.4 34 20.4 40 C 20.4 44 20 47 19 49.5 L 22.3 51.8 L 15.5 51.5 L 12.2 54 L 10.8 54 L 7.5 51.5 L 0.7 51.8 L 4 49.5 C 3 47 2.6 44 2.6 40 C 2.6 34 3.3 28 4.2 23.5 L 2.8 21.8 L 4.6 20.5 C 4.8 18.5 5.4 16.5 6.4 14.5 C 5.5 13.6 4.7 12.5 4.8 11 C 5.2 9.3 7 7.8 8.1 6.5 C 8.8 4 10.3 1.6 11.5 0.6 Z" fill="url(#body)" filter="url(#tex)"/>
<g clip-path="url(#mclip)">
<ellipse cx="11.5" cy="5.5" rx="1.6" ry="3.2" fill="#6a6a70" opacity="0.55"/>
<g filter="url(#rough3)">
<ellipse cx="12.00" cy="28" rx="11.00" ry="22.00" fill="url(#blue)"/>
<ellipse cx="12.10" cy="4" rx="2.20" ry="2.75" fill="url(#blue)"/>
<ellipse cx="12.10" cy="12.8" rx="5.00" ry="3.75" fill="url(#red)"/>
<ellipse cx="12.10" cy="34.2" rx="9.35" ry="7.15" fill="url(#red)"/>
<ellipse cx="12.00" cy="43" rx="6.60" ry="4.40" fill="url(#cool)"/>
<ellipse cx="6.50" cy="22" rx="2.00" ry="7.00" fill="url(#wht)"/>
<ellipse cx="16.00" cy="24" rx="1.50" ry="4.00" fill="url(#wht)"/>
</g></g></g>
<g transform="translate(77.00,103.90) scale(1.004,0.937)">
<path d="M 11.5 0.6 C 12.7 1.6 14.2 4 14.9 6.5 C 16 7.8 17.8 9.3 18.2 11 C 18.3 12.5 17.5 13.6 16.6 14.5 C 17.6 16.5 18.2 18.5 18.4 20.5 L 20.2 21.8 L 18.8 23.5 C 19.7 28 20.4 34 20.4 40 C 20.4 44 20 47 19 49.5 L 22.3 51.8 L 15.5 51.5 L 12.2 54 L 10.8 54 L 7.5 51.5 L 0.7 51.8 L 4 49.5 C 3 47 2.6 44 2.6 40 C 2.6 34 3.3 28 4.2 23.5 L 2.8 21.8 L 4.6 20.5 C 4.8 18.5 5.4 16.5 6.4 14.5 C 5.5 13.6 4.7 12.5 4.8 11 C 5.2 9.3 7 7.8 8.1 6.5 C 8.8 4 10.3 1.6 11.5 0.6 Z" fill="url(#body)" filter="url(#tex)"/>
<g clip-path="url(#mclip)">
<ellipse cx="11.5" cy="5.5" rx="1.6" ry="3.2" fill="#6a6a70" opacity="0.55"/>
<g filter="url(#rough0)">
<ellipse cx="11.95" cy="27" rx="10.95" ry="24.20" fill="url(#blue)"/>
<ellipse cx="12.05" cy="3.2" rx="2.19" ry="3.30" fill="url(#cool)"/>
<ellipse cx="12.05" cy="12" rx="4.98" ry="3.75" fill="url(#red)"/>
<ellipse cx="11.95" cy="18.5" rx="5.48" ry="3.30" fill="url(#cool)"/>
<ellipse cx="12.45" cy="36" rx="10.40" ry="9.90" fill="url(#yg)"/>
<ellipse cx="11.95" cy="40" rx="2.19" ry="2.20" fill="url(#hot)"/>
<ellipse cx="11.95" cy="46" rx="5.48" ry="3.30" fill="url(#green)"/>
<ellipse cx="15.93" cy="22" rx="2.49" ry="3.00" fill="url(#wht)"/>
</g></g></g>
<g transform="translate(107.00,103.90) scale(0.939,0.937)">
<path d="M 11.5 0.6 C 12.7 1.6 14.2 4 14.9 6.5 C 16 7.8 17.8 9.3 18.2 11 C 18.3 12.5 17.5 13.6 16.6 14.5 C 17.6 16.5 18.2 18.5 18.4 20.5 L 20.2 21.8 L 18.8 23.5 C 19.7 28 20.4 34 20.4 40 C 20.4 44 20 47 19 49.5 L 22.3 51.8 L 15.5 51.5 L 12.2 54 L 10.8 54 L 7.5 51.5 L 0.7 51.8 L 4 49.5 C 3 47 2.6 44 2.6 40 C 2.6 34 3.3 28 4.2 23.5 L 2.8 21.8 L 4.6 20.5 C 4.8 18.5 5.4 16.5 6.4 14.5 C 5.5 13.6 4.7 12.5 4.8 11 C 5.2 9.3 7 7.8 8.1 6.5 C 8.8 4 10.3 1.6 11.5 0.6 Z" fill="url(#body)" filter="url(#tex)"/>
<g clip-path="url(#mclip)">
<ellipse cx="11.5" cy="5.5" rx="1.6" ry="3.2" fill="#6a6a70" opacity="0.55"/>
<g filter="url(#rough1)">
<ellipse cx="11.71" cy="27" rx="11.71" ry="24.20" fill="url(#blue)"/>
<ellipse cx="11.07" cy="4" rx="2.34" ry="2.75" fill="url(#cool)"/>
<ellipse cx="11.07" cy="12" rx="5.99" ry="3.75" fill="url(#red)"/>
<ellipse cx="11.07" cy="17.5" rx="6.44" ry="3.30" fill="url(#yg)"/>
<ellipse cx="10.12" cy="37" rx="9.37" ry="8.80" fill="url(#yg)"/>
<ellipse cx="10.65" cy="44" rx="7.03" ry="3.30" fill="url(#cool)"/>
<ellipse cx="14.91" cy="25" rx="2.66" ry="2.50" fill="url(#wht)"/>
</g></g></g>
<g transform="translate(128.60,103.90) scale(0.961,0.937)">
<path d="M 11.5 0.6 C 12.7 1.6 14.2 4 14.9 6.5 C 16 7.8 17.8 9.3 18.2 11 C 18.3 12.5 17.5 13.6 16.6 14.5 C 17.6 16.5 18.2 18.5 18.4 20.5 L 20.2 21.8 L 18.8 23.5 C 19.7 28 20.4 34 20.4 40 C 20.4 44 20 47 19 49.5 L 22.3 51.8 L 15.5 51.5 L 12.2 54 L 10.8 54 L 7.5 51.5 L 0.7 51.8 L 4 49.5 C 3 47 2.6 44 2.6 40 C 2.6 34 3.3 28 4.2 23.5 L 2.8 21.8 L 4.6 20.5 C 4.8 18.5 5.4 16.5 6.4 14.5 C 5.5 13.6 4.7 12.5 4.8 11 C 5.2 9.3 7 7.8 8.1 6.5 C 8.8 4 10.3 1.6 11.5 0.6 Z" fill="url(#body)" filter="url(#tex)"/>
<g clip-path="url(#mclip)">
<ellipse cx="11.5" cy="5.5" rx="1.6" ry="3.2" fill="#6a6a70" opacity="0.55"/>
<g filter="url(#rough2)">
<ellipse cx="11.45" cy="27" rx="12.02" ry="24.20" fill="url(#blue)"/>
<ellipse cx="10.82" cy="4" rx="2.29" ry="2.75" fill="url(#cool)"/>
<ellipse cx="10.82" cy="11" rx="5.85" ry="3.75" fill="url(#red)"/>
<ellipse cx="10.82" cy="16" rx="5.72" ry="2.75" fill="url(#yg)"/>
<ellipse cx="10.82" cy="33.4" rx="9.73" ry="4.40" fill="url(#red)"/>
<ellipse cx="11.45" cy="40.5" rx="9.16" ry="5.50" fill="url(#yg)"/>
</g></g></g>
<g transform="translate(150.70,103.90) scale(0.965,0.937)">
<path d="M 11.5 0.6 C 12.7 1.6 14.2 4 14.9 6.5 C 16 7.8 17.8 9.3 18.2 11 C 18.3 12.5 17.5 13.6 16.6 14.5 C 17.6 16.5 18.2 18.5 18.4 20.5 L 20.2 21.8 L 18.8 23.5 C 19.7 28 20.4 34 20.4 40 C 20.4 44 20 47 19 49.5 L 22.3 51.8 L 15.5 51.5 L 12.2 54 L 10.8 54 L 7.5 51.5 L 0.7 51.8 L 4 49.5 C 3 47 2.6 44 2.6 40 C 2.6 34 3.3 28 4.2 23.5 L 2.8 21.8 L 4.6 20.5 C 4.8 18.5 5.4 16.5 6.4 14.5 C 5.5 13.6 4.7 12.5 4.8 11 C 5.2 9.3 7 7.8 8.1 6.5 C 8.8 4 10.3 1.6 11.5 0.6 Z" fill="url(#body)" filter="url(#tex)"/>
<g clip-path="url(#mclip)">
<ellipse cx="11.5" cy="5.5" rx="1.6" ry="3.2" fill="#6a6a70" opacity="0.55"/>
<g filter="url(#rough3)">
<ellipse cx="11.40" cy="27" rx="11.97" ry="24.20" fill="url(#blue)"/>
<ellipse cx="11.09" cy="4" rx="2.28" ry="2.75" fill="url(#cool)"/>
<ellipse cx="11.09" cy="11" rx="5.83" ry="3.75" fill="url(#red)"/>
<ellipse cx="11.09" cy="16.5" rx="5.70" ry="2.75" fill="url(#green)"/>
<ellipse cx="11.91" cy="33.4" rx="8.55" ry="4.18" fill="url(#red)"/>
<ellipse cx="11.29" cy="40" rx="8.55" ry="5.50" fill="url(#yg)"/>
</g></g></g>
<g transform="translate(179.20,103.90) scale(1.013,0.937)">
<path d="M 11.5 0.6 C 12.7 1.6 14.2 4 14.9 6.5 C 16 7.8 17.8 9.3 18.2 11 C 18.3 12.5 17.5 13.6 16.6 14.5 C 17.6 16.5 18.2 18.5 18.4 20.5 L 20.2 21.8 L 18.8 23.5 C 19.7 28 20.4 34 20.4 40 C 20.4 44 20 47 19 49.5 L 22.3 51.8 L 15.5 51.5 L 12.2 54 L 10.8 54 L 7.5 51.5 L 0.7 51.8 L 4 49.5 C 3 47 2.6 44 2.6 40 C 2.6 34 3.3 28 4.2 23.5 L 2.8 21.8 L 4.6 20.5 C 4.8 18.5 5.4 16.5 6.4 14.5 C 5.5 13.6 4.7 12.5 4.8 11 C 5.2 9.3 7 7.8 8.1 6.5 C 8.8 4 10.3 1.6 11.5 0.6 Z" fill="url(#body)" filter="url(#tex)"/>
<g clip-path="url(#mclip)">
<ellipse cx="11.5" cy="5.5" rx="1.6" ry="3.2" fill="#6a6a70" opacity="0.55"/>
<g filter="url(#rough0)">
<ellipse cx="11.06" cy="4" rx="2.71" ry="2.75" fill="url(#blue)"/>
<ellipse cx="11.06" cy="12" rx="7.40" ry="4.38" fill="url(#blue)"/>
<ellipse cx="11.06" cy="11.9" rx="4.94" ry="3.50" fill="url(#hot)"/>
<ellipse cx="11.06" cy="18.3" rx="5.97" ry="3.85" fill="url(#blue)"/>
<ellipse cx="10.86" cy="36" rx="9.23" ry="8.25" fill="url(#blue)"/>
<ellipse cx="8.88" cy="38.2" rx="3.80" ry="3.85" fill="url(#cool)"/>
<ellipse cx="9.58" cy="47" rx="2.17" ry="2.20" fill="url(#blue)"/>
</g></g></g>
<g transform="translate(202.50,103.90) scale(1.043,0.937)">
<path d="M 11.5 0.6 C 12.7 1.6 14.2 4 14.9 6.5 C 16 7.8 17.8 9.3 18.2 11 C 18.3 12.5 17.5 13.6 16.6 14.5 C 17.6 16.5 18.2 18.5 18.4 20.5 L 20.2 21.8 L 18.8 23.5 C 19.7 28 20.4 34 20.4 40 C 20.4 44 20 47 19 49.5 L 22.3 51.8 L 15.5 51.5 L 12.2 54 L 10.8 54 L 7.5 51.5 L 0.7 51.8 L 4 49.5 C 3 47 2.6 44 2.6 40 C 2.6 34 3.3 28 4.2 23.5 L 2.8 21.8 L 4.6 20.5 C 4.8 18.5 5.4 16.5 6.4 14.5 C 5.5 13.6 4.7 12.5 4.8 11 C 5.2 9.3 7 7.8 8.1 6.5 C 8.8 4 10.3 1.6 11.5 0.6 Z" fill="url(#body)" filter="url(#tex)"/>
<g clip-path="url(#mclip)">
<ellipse cx="11.5" cy="5.5" rx="1.6" ry="3.2" fill="#6a6a70" opacity="0.55"/>
<g filter="url(#rough1)">
<ellipse cx="11.31" cy="4" rx="2.64" ry="2.75" fill="url(#blue)"/>
<ellipse cx="11.31" cy="12" rx="7.79" ry="4.38" fill="url(#blue)"/>
<ellipse cx="11.31" cy="11.9" rx="4.19" ry="3.12" fill="url(#warm)"/>
<ellipse cx="11.31" cy="19.1" rx="5.80" ry="3.08" fill="url(#blue)"/>
<ellipse cx="10.54" cy="37" rx="10.54" ry="8.80" fill="url(#cool)"/>
<ellipse cx="9.87" cy="35.8" rx="5.27" ry="4.40" fill="url(#green)"/>
<ellipse cx="11.50" cy="46" rx="4.22" ry="2.75" fill="url(#blue)"/>
</g></g></g>
<g transform="translate(226.50,103.90) scale(0.961,0.937)">
<path d="M 11.5 0.6 C 12.7 1.6 14.2 4 14.9 6.5 C 16 7.8 17.8 9.3 18.2 11 C 18.3 12.5 17.5 13.6 16.6 14.5 C 17.6 16.5 18.2 18.5 18.4 20.5 L 20.2 21.8 L 18.8 23.5 C 19.7 28 20.4 34 20.4 40 C 20.4 44 20 47 19 49.5 L 22.3 51.8 L 15.5 51.5 L 12.2 54 L 10.8 54 L 7.5 51.5 L 0.7 51.8 L 4 49.5 C 3 47 2.6 44 2.6 40 C 2.6 34 3.3 28 4.2 23.5 L 2.8 21.8 L 4.6 20.5 C 4.8 18.5 5.4 16.5 6.4 14.5 C 5.5 13.6 4.7 12.5 4.8 11 C 5.2 9.3 7 7.8 8.1 6.5 C 8.8 4 10.3 1.6 11.5 0.6 Z" fill="url(#body)" filter="url(#tex)"/>
<g clip-path="url(#mclip)">
<ellipse cx="11.5" cy="5.5" rx="1.6" ry="3.2" fill="#6a6a70" opacity="0.55"/>
<g filter="url(#rough2)">
<ellipse cx="11.34" cy="4" rx="2.29" ry="2.75" fill="url(#blue)"/>
<ellipse cx="11.34" cy="11.9" rx="5.20" ry="3.75" fill="url(#cool)"/>
<ellipse cx="11.34" cy="17.5" rx="5.15" ry="2.42" fill="url(#blue)"/>
<ellipse cx="11.45" cy="34.5" rx="9.73" ry="7.70" fill="url(#cool)"/>
<ellipse cx="12.90" cy="46.2" rx="2.29" ry="2.20" fill="url(#blue)"/>
</g></g></g>
<g transform="translate(254.90,103.90) scale(1.013,0.937)">
<path d="M 11.5 0.6 C 12.7 1.6 14.2 4 14.9 6.5 C 16 7.8 17.8 9.3 18.2 11 C 18.3 12.5 17.5 13.6 16.6 14.5 C 17.6 16.5 18.2 18.5 18.4 20.5 L 20.2 21.8 L 18.8 23.5 C 19.7 28 20.4 34 20.4 40 C 20.4 44 20 47 19 49.5 L 22.3 51.8 L 15.5 51.5 L 12.2 54 L 10.8 54 L 7.5 51.5 L 0.7 51.8 L 4 49.5 C 3 47 2.6 44 2.6 40 C 2.6 34 3.3 28 4.2 23.5 L 2.8 21.8 L 4.6 20.5 C 4.8 18.5 5.4 16.5 6.4 14.5 C 5.5 13.6 4.7 12.5 4.8 11 C 5.2 9.3 7 7.8 8.1 6.5 C 8.8 4 10.3 1.6 11.5 0.6 Z" fill="url(#body)" filter="url(#tex)"/>
<g clip-path="url(#mclip)">
<ellipse cx="11.5" cy="5.5" rx="1.6" ry="3.2" fill="#6a6a70" opacity="0.55"/>
<g filter="url(#rough3)">
<ellipse cx="9.58" cy="11.1" rx="5.18" ry="3.38" fill="url(#cool)"/>
<ellipse cx="10.27" cy="31.8" rx="9.77" ry="4.18" fill="url(#blue)"/>
</g></g></g>
<g transform="translate(278.20,103.90) scale(0.948,0.937)">
<path d="M 11.5 0.6 C 12.7 1.6 14.2 4 14.9 6.5 C 16 7.8 17.8 9.3 18.2 11 C 18.3 12.5 17.5 13.6 16.6 14.5 C 17.6 16.5 18.2 18.5 18.4 20.5 L 20.2 21.8 L 18.8 23.5 C 19.7 28 20.4 34 20.4 40 C 20.4 44 20 47 19 49.5 L 22.3 51.8 L 15.5 51.5 L 12.2 54 L 10.8 54 L 7.5 51.5 L 0.7 51.8 L 4 49.5 C 3 47 2.6 44 2.6 40 C 2.6 34 3.3 28 4.2 23.5 L 2.8 21.8 L 4.6 20.5 C 4.8 18.5 5.4 16.5 6.4 14.5 C 5.5 13.6 4.7 12.5 4.8 11 C 5.2 9.3 7 7.8 8.1 6.5 C 8.8 4 10.3 1.6 11.5 0.6 Z" fill="url(#body)" filter="url(#tex)"/>
<g clip-path="url(#mclip)">
<ellipse cx="11.5" cy="5.5" rx="1.6" ry="3.2" fill="#6a6a70" opacity="0.55"/>
<g filter="url(#rough0)">
<ellipse cx="9.28" cy="11.1" rx="4.88" ry="3.38" fill="url(#cool)"/>
<ellipse cx="10.13" cy="32.6" rx="9.86" ry="4.18" fill="url(#blue)"/>
<ellipse cx="8.44" cy="33" rx="2.32" ry="1.65" fill="url(#cool)"/>
<ellipse cx="12.45" cy="17.5" rx="1.74" ry="1.65" fill="url(#purp)"/>
</g></g></g>
<g transform="translate(300.00,103.90) scale(0.948,0.937)">
<path d="M 11.5 0.6 C 12.7 1.6 14.2 4 14.9 6.5 C 16 7.8 17.8 9.3 18.2 11 C 18.3 12.5 17.5 13.6 16.6 14.5 C 17.6 16.5 18.2 18.5 18.4 20.5 L 20.2 21.8 L 18.8 23.5 C 19.7 28 20.4 34 20.4 40 C 20.4 44 20 47 19 49.5 L 22.3 51.8 L 15.5 51.5 L 12.2 54 L 10.8 54 L 7.5 51.5 L 0.7 51.8 L 4 49.5 C 3 47 2.6 44 2.6 40 C 2.6 34 3.3 28 4.2 23.5 L 2.8 21.8 L 4.6 20.5 C 4.8 18.5 5.4 16.5 6.4 14.5 C 5.5 13.6 4.7 12.5 4.8 11 C 5.2 9.3 7 7.8 8.1 6.5 C 8.8 4 10.3 1.6 11.5 0.6 Z" fill="url(#body)" filter="url(#tex)"/>
<g clip-path="url(#mclip)">
<ellipse cx="11.5" cy="5.5" rx="1.6" ry="3.2" fill="#6a6a70" opacity="0.55"/>
<g filter="url(#rough1)">
<ellipse cx="10.66" cy="11.9" rx="4.88" ry="2.88" fill="url(#cool)"/>
<ellipse cx="8.33" cy="37.4" rx="6.38" ry="7.15" fill="url(#blue)"/>
<ellipse cx="16.25" cy="35" rx="2.32" ry="2.20" fill="url(#blue)"/>
</g></g></g>
<g transform="translate(329.20,103.90) scale(1.030,0.937)">
<path d="M 11.5 0.6 C 12.7 1.6 14.2 4 14.9 6.5 C 16 7.8 17.8 9.3 18.2 11 C 18.3 12.5 17.5 13.6 16.6 14.5 C 17.6 16.5 18.2 18.5 18.4 20.5 L 20.2 21.8 L 18.8 23.5 C 19.7 28 20.4 34 20.4 40 C 20.4 44 20 47 19 49.5 L 22.3 51.8 L 15.5 51.5 L 12.2 54 L 10.8 54 L 7.5 51.5 L 0.7 51.8 L 4 49.5 C 3 47 2.6 44 2.6 40 C 2.6 34 3.3 28 4.2 23.5 L 2.8 21.8 L 4.6 20.5 C 4.8 18.5 5.4 16.5 6.4 14.5 C 5.5 13.6 4.7 12.5 4.8 11 C 5.2 9.3 7 7.8 8.1 6.5 C 8.8 4 10.3 1.6 11.5 0.6 Z" fill="url(#body)" filter="url(#tex)"/>
<g clip-path="url(#mclip)">
<ellipse cx="11.5" cy="5.5" rx="1.6" ry="3.2" fill="#6a6a70" opacity="0.55"/>
<g filter="url(#rough2)">
<ellipse cx="11.65" cy="27" rx="10.68" ry="23.10" fill="url(#blue)"/>
<ellipse cx="12.32" cy="4" rx="2.67" ry="2.75" fill="url(#cool)"/>
<ellipse cx="12.32" cy="11.5" rx="5.46" ry="3.75" fill="url(#red)"/>
<ellipse cx="11.55" cy="16.7" rx="4.80" ry="2.97" fill="url(#cool)"/>
<ellipse cx="10.68" cy="34.5" rx="9.61" ry="8.25" fill="url(#hot)"/>
<ellipse cx="10.09" cy="34.2" rx="5.34" ry="3.08" fill="url(#red)"/>
<ellipse cx="9.70" cy="44" rx="5.34" ry="3.30" fill="url(#cool)"/>
<ellipse cx="7.76" cy="23" rx="1.94" ry="3.00" fill="url(#wht)"/>
</g></g></g>
<g transform="translate(352.90,103.90) scale(0.965,0.937)">
<path d="M 11.5 0.6 C 12.7 1.6 14.2 4 14.9 6.5 C 16 7.8 17.8 9.3 18.2 11 C 18.3 12.5 17.5 13.6 16.6 14.5 C 17.6 16.5 18.2 18.5 18.4 20.5 L 20.2 21.8 L 18.8 23.5 C 19.7 28 20.4 34 20.4 40 C 20.4 44 20 47 19 49.5 L 22.3 51.8 L 15.5 51.5 L 12.2 54 L 10.8 54 L 7.5 51.5 L 0.7 51.8 L 4 49.5 C 3 47 2.6 44 2.6 40 C 2.6 34 3.3 28 4.2 23.5 L 2.8 21.8 L 4.6 20.5 C 4.8 18.5 5.4 16.5 6.4 14.5 C 5.5 13.6 4.7 12.5 4.8 11 C 5.2 9.3 7 7.8 8.1 6.5 C 8.8 4 10.3 1.6 11.5 0.6 Z" fill="url(#body)" filter="url(#tex)"/>
<g clip-path="url(#mclip)">
<ellipse cx="11.5" cy="5.5" rx="1.6" ry="3.2" fill="#6a6a70" opacity="0.55"/>
<g filter="url(#rough3)">
<ellipse cx="11.71" cy="27" rx="10.83" ry="23.10" fill="url(#blue)"/>
<ellipse cx="11.71" cy="4" rx="2.85" ry="2.75" fill="url(#blue)"/>
<ellipse cx="11.71" cy="12" rx="7.12" ry="4.38" fill="url(#blue)"/>
<ellipse cx="11.71" cy="11.9" rx="5.18" ry="3.25" fill="url(#red)"/>
<ellipse cx="11.71" cy="19.1" rx="4.56" ry="2.75" fill="url(#blue)"/>
<ellipse cx="11.71" cy="35.8" rx="10.83" ry="8.80" fill="url(#yg)"/>
<ellipse cx="11.40" cy="45" rx="5.70" ry="3.30" fill="url(#blue)"/>
<ellipse cx="15.54" cy="23" rx="2.07" ry="3.00" fill="url(#wht)"/>
</g></g></g>
<g transform="translate(375.10,103.90) scale(0.822,0.937)">
<path d="M 11.5 0.6 C 12.7 1.6 14.2 4 14.9 6.5 C 16 7.8 17.8 9.3 18.2 11 C 18.3 12.5 17.5 13.6 16.6 14.5 C 17.6 16.5 18.2 18.5 18.4 20.5 L 20.2 21.8 L 18.8 23.5 C 19.7 28 20.4 34 20.4 40 C 20.4 44 20 47 19 49.5 L 22.3 51.8 L 15.5 51.5 L 12.2 54 L 10.8 54 L 7.5 51.5 L 0.7 51.8 L 4 49.5 C 3 47 2.6 44 2.6 40 C 2.6 34 3.3 28 4.2 23.5 L 2.8 21.8 L 4.6 20.5 C 4.8 18.5 5.4 16.5 6.4 14.5 C 5.5 13.6 4.7 12.5 4.8 11 C 5.2 9.3 7 7.8 8.1 6.5 C 8.8 4 10.3 1.6 11.5 0.6 Z" fill="url(#body)" filter="url(#tex)"/>
<g clip-path="url(#mclip)">
<ellipse cx="11.5" cy="5.5" rx="1.6" ry="3.2" fill="#6a6a70" opacity="0.55"/>
<g filter="url(#rough0)">
<ellipse cx="12.17" cy="27" rx="12.05" ry="23.10" fill="url(#blue)"/>
<ellipse cx="12.17" cy="3.2" rx="2.68" ry="2.75" fill="url(#blue)"/>
<ellipse cx="12.17" cy="12" rx="8.37" ry="4.38" fill="url(#blue)"/>
<ellipse cx="12.17" cy="11.5" rx="6.08" ry="3.25" fill="url(#red)"/>
<ellipse cx="12.17" cy="18.3" rx="5.35" ry="2.75" fill="url(#blue)"/>
<ellipse cx="12.17" cy="34.5" rx="11.38" ry="8.80" fill="url(#yg)"/>
<ellipse cx="12.17" cy="44" rx="6.69" ry="3.30" fill="url(#blue)"/>
<ellipse cx="15.82" cy="23" rx="2.43" ry="3.00" fill="url(#wht)"/>
</g></g></g>
<g transform="translate(401.60,103.90) scale(0.922,0.937)">
<path d="M 11.5 0.6 C 12.7 1.6 14.2 4 14.9 6.5 C 16 7.8 17.8 9.3 18.2 11 C 18.3 12.5 17.5 13.6 16.6 14.5 C 17.6 16.5 18.2 18.5 18.4 20.5 L 20.2 21.8 L 18.8 23.5 C 19.7 28 20.4 34 20.4 40 C 20.4 44 20 47 19 49.5 L 22.3 51.8 L 15.5 51.5 L 12.2 54 L 10.8 54 L 7.5 51.5 L 0.7 51.8 L 4 49.5 C 3 47 2.6 44 2.6 40 C 2.6 34 3.3 28 4.2 23.5 L 2.8 21.8 L 4.6 20.5 C 4.8 18.5 5.4 16.5 6.4 14.5 C 5.5 13.6 4.7 12.5 4.8 11 C 5.2 9.3 7 7.8 8.1 6.5 C 8.8 4 10.3 1.6 11.5 0.6 Z" fill="url(#body)" filter="url(#tex)"/>
<g clip-path="url(#mclip)">
<ellipse cx="11.5" cy="5.5" rx="1.6" ry="3.2" fill="#6a6a70" opacity="0.55"/>
<g filter="url(#rough1)">
<ellipse cx="11.28" cy="13.5" rx="6.78" ry="4.00" fill="url(#red)"/>
<ellipse cx="11.28" cy="19.1" rx="5.37" ry="3.30" fill="url(#blue)"/>
<ellipse cx="10.31" cy="38" rx="11.34" ry="11.00" fill="url(#hot)"/>
<ellipse cx="9.76" cy="37" rx="4.77" ry="4.95" fill="url(#yg)"/>
<ellipse cx="9.66" cy="36" rx="2.98" ry="2.75" fill="url(#red)"/>
</g></g></g>
<g transform="translate(422.80,103.90) scale(0.948,0.937)">
<path d="M 11.5 0.6 C 12.7 1.6 14.2 4 14.9 6.5 C 16 7.8 17.8 9.3 18.2 11 C 18.3 12.5 17.5 13.6 16.6 14.5 C 17.6 16.5 18.2 18.5 18.4 20.5 L 20.2 21.8 L 18.8 23.5 C 19.7 28 20.4 34 20.4 40 C 20.4 44 20 47 19 49.5 L 22.3 51.8 L 15.5 51.5 L 12.2 54 L 10.8 54 L 7.5 51.5 L 0.7 51.8 L 4 49.5 C 3 47 2.6 44 2.6 40 C 2.6 34 3.3 28 4.2 23.5 L 2.8 21.8 L 4.6 20.5 C 4.8 18.5 5.4 16.5 6.4 14.5 C 5.5 13.6 4.7 12.5 4.8 11 C 5.2 9.3 7 7.8 8.1 6.5 C 8.8 4 10.3 1.6 11.5 0.6 Z" fill="url(#body)" filter="url(#tex)"/>
<g clip-path="url(#mclip)">
<ellipse cx="11.5" cy="5.5" rx="1.6" ry="3.2" fill="#6a6a70" opacity="0.55"/>
<g filter="url(#rough2)">
<ellipse cx="10.97" cy="13.5" rx="5.93" ry="3.75" fill="url(#warm)"/>
<ellipse cx="10.97" cy="19.9" rx="4.64" ry="1.65" fill="url(#purp)"/>
<ellipse cx="12.24" cy="37.4" rx="8.70" ry="4.95" fill="url(#blue)"/>
<ellipse cx="12.24" cy="37.4" rx="4.06" ry="2.75" fill="url(#cool)"/>
<ellipse cx="11.50" cy="45.4" rx="3.48" ry="2.20" fill="url(#blue)"/>
</g></g></g>
<g transform="translate(444.60,103.90) scale(0.891,0.937)">
<path d="M 11.5 0.6 C 12.7 1.6 14.2 4 14.9 6.5 C 16 7.8 17.8 9.3 18.2 11 C 18.3 12.5 17.5 13.6 16.6 14.5 C 17.6 16.5 18.2 18.5 18.4 20.5 L 20.2 21.8 L 18.8 23.5 C 19.7 28 20.4 34 20.4 40 C 20.4 44 20 47 19 49.5 L 22.3 51.8 L 15.5 51.5 L 12.2 54 L 10.8 54 L 7.5 51.5 L 0.7 51.8 L 4 49.5 C 3 47 2.6 44 2.6 40 C 2.6 34 3.3 28 4.2 23.5 L 2.8 21.8 L 4.6 20.5 C 4.8 18.5 5.4 16.5 6.4 14.5 C 5.5 13.6 4.7 12.5 4.8 11 C 5.2 9.3 7 7.8 8.1 6.5 C 8.8 4 10.3 1.6 11.5 0.6 Z" fill="url(#body)" filter="url(#tex)"/>
<g clip-path="url(#mclip)">
<ellipse cx="11.5" cy="5.5" rx="1.6" ry="3.2" fill="#6a6a70" opacity="0.55"/>
<g filter="url(#rough3)">
<ellipse cx="11.22" cy="12.7" rx="5.61" ry="3.75" fill="url(#green)"/>
<ellipse cx="12.00" cy="19.1" rx="3.70" ry="1.65" fill="url(#purp)"/>
<ellipse cx="12.00" cy="37.4" rx="9.26" ry="6.05" fill="url(#blue)"/>
<ellipse cx="12.00" cy="37.4" rx="4.32" ry="3.30" fill="url(#warm)"/>
<ellipse cx="14.59" cy="43.8" rx="3.09" ry="2.20" fill="url(#blue)"/>
</g></g></g>
<rect x="32.5" y="41.0" width="22.5" height="53.0" fill="none" stroke="#7a1418" stroke-width="1.2"/>
<rect x="56.0" y="41.0" width="22.0" height="53.0" fill="none" stroke="#7a1418" stroke-width="1.2"/>
<rect x="79.0" y="41.0" width="21.3" height="53.0" fill="none" stroke="#7a1418" stroke-width="1.2"/>
<rect x="107.5" y="41.0" width="22.3" height="53.0" fill="none" stroke="#7a1418" stroke-width="1.2"/>
<rect x="130.8" y="41.0" width="22.0" height="53.0" fill="none" stroke="#7a1418" stroke-width="1.2"/>
<rect x="153.8" y="41.0" width="19.2" height="53.0" fill="none" stroke="#7a1418" stroke-width="1.2"/>
<rect x="179.3" y="41.0" width="21.0" height="53.0" fill="none" stroke="#7a1418" stroke-width="1.2"/>
<rect x="201.3" y="41.0" width="21.7" height="53.0" fill="none" stroke="#7a1418" stroke-width="1.2"/>
<rect x="224.0" y="41.0" width="22.7" height="53.0" fill="none" stroke="#7a1418" stroke-width="1.2"/>
<rect x="255.8" y="41.0" width="20.1" height="53.0" fill="none" stroke="#7a1418" stroke-width="1.2"/>
<rect x="276.9" y="41.0" width="21.3" height="53.0" fill="none" stroke="#7a1418" stroke-width="1.2"/>
<rect x="299.2" y="41.0" width="20.1" height="53.0" fill="none" stroke="#7a1418" stroke-width="1.2"/>
<rect x="329.5" y="41.0" width="21.3" height="53.0" fill="none" stroke="#7a1418" stroke-width="1.2"/>
<rect x="351.8" y="41.0" width="21.7" height="53.0" fill="none" stroke="#7a1418" stroke-width="1.2"/>
<rect x="374.5" y="41.0" width="21.6" height="53.0" fill="none" stroke="#7a1418" stroke-width="1.2"/>
<rect x="402.7" y="41.0" width="22.3" height="53.0" fill="none" stroke="#7a1418" stroke-width="1.2"/>
<rect x="426.0" y="41.0" width="22.5" height="53.0" fill="none" stroke="#7a1418" stroke-width="1.2"/>
<rect x="449.5" y="41.0" width="21.2" height="53.0" fill="none" stroke="#7a1418" stroke-width="1.2"/>
<rect x="30.8" y="104.4" width="22.7" height="49.6" fill="none" stroke="#7a1418" stroke-width="1.2"/>
<rect x="54.5" y="104.4" width="22.0" height="49.6" fill="none" stroke="#7a1418" stroke-width="1.2"/>
<rect x="77.5" y="104.4" width="22.1" height="49.6" fill="none" stroke="#7a1418" stroke-width="1.2"/>
<rect x="107.5" y="104.4" width="20.6" height="49.6" fill="none" stroke="#7a1418" stroke-width="1.2"/>
<rect x="129.1" y="104.4" width="21.1" height="49.6" fill="none" stroke="#7a1418" stroke-width="1.2"/>
<rect x="151.2" y="104.4" width="21.2" height="49.6" fill="none" stroke="#7a1418" stroke-width="1.2"/>
<rect x="179.7" y="104.4" width="22.3" height="49.6" fill="none" stroke="#7a1418" stroke-width="1.2"/>
<rect x="203.0" y="104.4" width="23.0" height="49.6" fill="none" stroke="#7a1418" stroke-width="1.2"/>
<rect x="227.0" y="104.4" width="21.1" height="49.6" fill="none" stroke="#7a1418" stroke-width="1.2"/>
<rect x="255.4" y="104.4" width="22.3" height="49.6" fill="none" stroke="#7a1418" stroke-width="1.2"/>
<rect x="278.7" y="104.4" width="20.8" height="49.6" fill="none" stroke="#7a1418" stroke-width="1.2"/>
<rect x="300.5" y="104.4" width="20.8" height="49.6" fill="none" stroke="#7a1418" stroke-width="1.2"/>
<rect x="329.7" y="104.4" width="22.7" height="49.6" fill="none" stroke="#7a1418" stroke-width="1.2"/>
<rect x="353.4" y="104.4" width="21.2" height="49.6" fill="none" stroke="#7a1418" stroke-width="1.2"/>
<rect x="375.6" y="104.4" width="17.9" height="49.6" fill="none" stroke="#7a1418" stroke-width="1.2"/>
<rect x="402.1" y="104.4" width="20.2" height="49.6" fill="none" stroke="#7a1418" stroke-width="1.2"/>
<rect x="423.3" y="104.4" width="20.8" height="49.6" fill="none" stroke="#7a1418" stroke-width="1.2"/>
<rect x="445.1" y="104.4" width="19.5" height="49.6" fill="none" stroke="#7a1418" stroke-width="1.2"/>
<text x="42.8" y="186.4" font-size="11.2" font-weight="bold" font-family="'Liberation Sans', sans-serif" fill="#111">B</text>
<text transform="translate(69.6,242.5) rotate(-90)" font-size="10" font-weight="bold" text-anchor="middle" font-family="'Liberation Sans', sans-serif" fill="#111">photons/sec/mouse</text>
<line x1="101.5" y1="311.00" x2="104" y2="311.00" stroke="#111" stroke-width="1"/>
<text x="101" y="313.60" font-size="8.3" font-weight="bold" text-anchor="end" font-family="'Liberation Sans', sans-serif" fill="#222">0</text>
<line x1="101.5" y1="291.38" x2="104" y2="291.38" stroke="#111" stroke-width="1"/>
<text x="101" y="293.98" font-size="8.3" font-weight="bold" text-anchor="end" font-family="'Liberation Sans', sans-serif" fill="#222" letter-spacing="-0.15">2.5×10<tspan font-size="4.6" dy="-2.4">6</tspan></text>
<line x1="101.5" y1="271.77" x2="104" y2="271.77" stroke="#111" stroke-width="1"/>
<text x="101" y="274.37" font-size="8.3" font-weight="bold" text-anchor="end" font-family="'Liberation Sans', sans-serif" fill="#222" letter-spacing="-0.15">5.0×10<tspan font-size="4.6" dy="-2.4">6</tspan></text>
<line x1="101.5" y1="252.15" x2="104" y2="252.15" stroke="#111" stroke-width="1"/>
<text x="101" y="254.75" font-size="8.3" font-weight="bold" text-anchor="end" font-family="'Liberation Sans', sans-serif" fill="#222" letter-spacing="-0.15">7.5×10<tspan font-size="4.6" dy="-2.4">6</tspan></text>
<line x1="101.5" y1="232.53" x2="104" y2="232.53" stroke="#111" stroke-width="1"/>
<text x="101" y="235.13" font-size="8.3" font-weight="bold" text-anchor="end" font-family="'Liberation Sans', sans-serif" fill="#222" letter-spacing="-0.15">1.0×10<tspan font-size="4.6" dy="-2.4">7</tspan></text>
<line x1="101.5" y1="212.92" x2="104" y2="212.92" stroke="#111" stroke-width="1"/>
<text x="101" y="215.52" font-size="8.3" font-weight="bold" text-anchor="end" font-family="'Liberation Sans', sans-serif" fill="#222" letter-spacing="-0.15">1.3×10<tspan font-size="4.6" dy="-2.4">7</tspan></text>
<line x1="101.5" y1="193.30" x2="104" y2="193.30" stroke="#111" stroke-width="1"/>
<text x="101" y="195.90" font-size="8.3" font-weight="bold" text-anchor="end" font-family="'Liberation Sans', sans-serif" fill="#222" letter-spacing="-0.15">1.5×10<tspan font-size="4.6" dy="-2.4">7</tspan></text>
<line x1="104" y1="192.8" x2="104" y2="312" stroke="#111" stroke-width="1.8"/>
<line x1="103.1" y1="311" x2="250" y2="311" stroke="#111" stroke-width="1.8"/>
<line x1="110.7" y1="311" x2="110.7" y2="313.6" stroke="#111" stroke-width="1"/>
<text x="110.7" y="326.5" font-size="10" font-weight="bold" text-anchor="middle" font-family="'Liberation Sans', sans-serif" fill="#111">2</text>
<line x1="154.8" y1="311" x2="154.8" y2="313.6" stroke="#111" stroke-width="1"/>
<text x="154.8" y="326.5" font-size="10" font-weight="bold" text-anchor="middle" font-family="'Liberation Sans', sans-serif" fill="#111">14</text>
<line x1="198" y1="311" x2="198" y2="313.6" stroke="#111" stroke-width="1"/>
<text x="198" y="326.5" font-size="10" font-weight="bold" text-anchor="middle" font-family="'Liberation Sans', sans-serif" fill="#111">26</text>
<line x1="241" y1="311" x2="241" y2="313.6" stroke="#111" stroke-width="1"/>
<text x="241" y="326.5" font-size="10" font-weight="bold" text-anchor="middle" font-family="'Liberation Sans', sans-serif" fill="#111">38</text>
<text x="175.6" y="336.2" font-size="7" font-weight="bold" text-anchor="middle" font-family="'Liberation Sans', sans-serif" fill="#222">Time after BMT (days)</text>
<path d="M118.5 266.5 V292.5 M116.1 266.5 H120.9 M116.1 292.5 H120.9" stroke="#484848" stroke-width="0.9" fill="none"/>
<path d="M133.5 211.8 V247.6 M131.1 211.8 H135.9 M131.1 247.6 H135.9" stroke="#484848" stroke-width="0.9" fill="none"/>
<path d="M133.5 225 V244 M131.1 225 H135.9 M131.1 244 H135.9" stroke="#484848" stroke-width="0.9" fill="none"/>
<path d="M147.5 232.8 V252.7 M145.1 232.8 H149.9 M145.1 252.7 H149.9" stroke="#484848" stroke-width="0.9" fill="none"/>
<path d="M161.5 218 V251.5 M159.1 218 H163.9 M159.1 251.5 H163.9" stroke="#484848" stroke-width="0.9" fill="none"/>
<path d="M133.5 265.9 V284 M131.1 265.9 H135.9 M131.1 284 H135.9" stroke="#484848" stroke-width="0.9" fill="none"/>
<path d="M147.5 267 V280 M145.1 267 H149.9 M145.1 280 H149.9" stroke="#484848" stroke-width="0.9" fill="none"/>
<path d="M161.5 268 V278 M159.1 268 H163.9 M159.1 278 H163.9" stroke="#484848" stroke-width="0.9" fill="none"/>
<path d="M168.5 269 V278 M166.1 269 H170.9 M166.1 278 H170.9" stroke="#484848" stroke-width="0.9" fill="none"/>
<path d="M186.5 257.5 V269.6 M184.1 257.5 H188.9 M184.1 269.6 H188.9" stroke="#484848" stroke-width="0.9" fill="none"/>
<path d="M198.5 264.8 V280.1 M196.1 264.8 H200.9 M196.1 280.1 H200.9" stroke="#484848" stroke-width="0.9" fill="none"/>
<path d="M212.5 266.8 V281.7 M210.1 266.8 H214.9 M210.1 281.7 H214.9" stroke="#484848" stroke-width="0.9" fill="none"/>
<path d="M234.5 258 V268.5 M232.1 258 H236.9 M232.1 268.5 H236.9" stroke="#484848" stroke-width="0.9" fill="none"/>
<path d="M245.5 269.2 V288.7 M243.1 269.2 H247.9 M243.1 288.7 H247.9" stroke="#484848" stroke-width="0.9" fill="none"/>
<path d="M133.5 288.3 V295 M131.1 288.3 H135.9 M131.1 295 H135.9" stroke="#484848" stroke-width="0.9" fill="none"/>
<path d="M147.5 286 V296 M145.1 286 H149.9 M145.1 296 H149.9" stroke="#484848" stroke-width="0.9" fill="none"/>
<path d="M161.5 288 V293 M159.1 288 H163.9 M159.1 293 H163.9" stroke="#484848" stroke-width="0.9" fill="none"/>
<path d="M186.5 282.3 V287.5 M184.1 282.3 H188.9 M184.1 287.5 H188.9" stroke="#484848" stroke-width="0.9" fill="none"/>
<path d="M198.5 286.7 V296 M196.1 286.7 H200.9 M196.1 296 H200.9" stroke="#484848" stroke-width="0.9" fill="none"/>
<path d="M212.5 284 V290 M210.1 284 H214.9 M210.1 290 H214.9" stroke="#484848" stroke-width="0.9" fill="none"/>
<path d="M234.5 287.2 V293.8 M232.1 287.2 H236.9 M232.1 293.8 H236.9" stroke="#484848" stroke-width="0.9" fill="none"/>
<path d="M245.5 287.7 V293.8 M243.1 287.7 H247.9 M243.1 293.8 H247.9" stroke="#484848" stroke-width="0.9" fill="none"/>
<path d="M110.5 302 V308 M108.1 302 H112.9 M108.1 308 H112.9" stroke="#484848" stroke-width="0.9" fill="none"/>
<path d="M110.6 308.3 L118.6 308.3 L133.0 308.3 L147.1 308.3 L161.5 308.3 L168.9 308.3 L186.8 308.3 L198.0 308.3 L212.0 308.3 L234.2 308.3 L245.1 308.3" fill="none" stroke="#111111" stroke-width="1.0" stroke-linejoin="round"/>
<circle cx="110.6" cy="308.3" r="1.9" fill="#111111"/>
<circle cx="118.6" cy="308.3" r="1.9" fill="#111111"/>
<circle cx="133" cy="308.3" r="1.9" fill="#111111"/>
<circle cx="147.1" cy="308.3" r="1.9" fill="#111111"/>
<circle cx="161.5" cy="308.3" r="1.9" fill="#111111"/>
<circle cx="168.9" cy="308.3" r="1.9" fill="#111111"/>
<circle cx="186.8" cy="308.3" r="1.9" fill="#111111"/>
<circle cx="198" cy="308.3" r="1.9" fill="#111111"/>
<circle cx="212" cy="308.3" r="1.9" fill="#111111"/>
<circle cx="234.2" cy="308.3" r="1.9" fill="#111111"/>
<circle cx="245.1" cy="308.3" r="1.9" fill="#111111"/>
<path d="M110.6 305.0 L118.6 301.3 L133.0 291.0 L147.1 291.0 L161.5 290.9 L168.9 287.8 L186.8 285.0 L198.0 291.0 L212.0 287.2 L234.2 290.5 L245.1 291.6" fill="none" stroke="#7a35b0" stroke-width="1.4" stroke-linejoin="round"/>
<path d="M110.6 303 L112.8 305 L110.6 307 L108.39999999999999 305 Z" fill="#fff" stroke="#7a35b0" stroke-width="0.9"/>
<path d="M118.6 299.3 L120.8 301.3 L118.6 303.3 L116.39999999999999 301.3 Z" fill="#fff" stroke="#7a35b0" stroke-width="0.9"/>
<path d="M133 289 L135.2 291 L133 293 L130.8 291 Z" fill="#fff" stroke="#7a35b0" stroke-width="0.9"/>
<path d="M147.1 289 L149.29999999999998 291 L147.1 293 L144.9 291 Z" fill="#fff" stroke="#7a35b0" stroke-width="0.9"/>
<path d="M161.5 288.9 L163.7 290.9 L161.5 292.9 L159.3 290.9 Z" fill="#fff" stroke="#7a35b0" stroke-width="0.9"/>
<path d="M168.9 285.8 L171.1 287.8 L168.9 289.8 L166.70000000000002 287.8 Z" fill="#fff" stroke="#7a35b0" stroke-width="0.9"/>
<path d="M186.8 283 L189.0 285 L186.8 287 L184.60000000000002 285 Z" fill="#fff" stroke="#7a35b0" stroke-width="0.9"/>
<path d="M198 289 L200.2 291 L198 293 L195.8 291 Z" fill="#fff" stroke="#7a35b0" stroke-width="0.9"/>
<path d="M212 285.2 L214.2 287.2 L212 289.2 L209.8 287.2 Z" fill="#fff" stroke="#7a35b0" stroke-width="0.9"/>
<path d="M234.2 288.5 L236.39999999999998 290.5 L234.2 292.5 L232.0 290.5 Z" fill="#fff" stroke="#7a35b0" stroke-width="0.9"/>
<path d="M245.1 289.6 L247.29999999999998 291.6 L245.1 293.6 L242.9 291.6 Z" fill="#fff" stroke="#7a35b0" stroke-width="0.9"/>
<path d="M110.6 304.5 L118.6 287.5 L133.0 274.6 L147.1 272.9 L161.5 272.9 L168.9 273.3 L186.8 263.0 L198.0 272.5 L212.0 275.1 L234.2 263.7 L245.1 278.4" fill="none" stroke="#e02424" stroke-width="1.4" stroke-linejoin="round"/>
<rect x="108.8" y="302.7" width="3.6" height="3.6" fill="#fff" stroke="#e02424" stroke-width="0.9"/>
<rect x="116.8" y="285.7" width="3.6" height="3.6" fill="#fff" stroke="#e02424" stroke-width="0.9"/>
<rect x="131.2" y="272.8" width="3.6" height="3.6" fill="#fff" stroke="#e02424" stroke-width="0.9"/>
<rect x="145.29999999999998" y="271.09999999999997" width="3.6" height="3.6" fill="#fff" stroke="#e02424" stroke-width="0.9"/>
<rect x="159.7" y="271.09999999999997" width="3.6" height="3.6" fill="#fff" stroke="#e02424" stroke-width="0.9"/>
<rect x="167.1" y="271.5" width="3.6" height="3.6" fill="#fff" stroke="#e02424" stroke-width="0.9"/>
<rect x="185.0" y="261.2" width="3.6" height="3.6" fill="#fff" stroke="#e02424" stroke-width="0.9"/>
<rect x="196.2" y="270.7" width="3.6" height="3.6" fill="#fff" stroke="#e02424" stroke-width="0.9"/>
<rect x="210.2" y="273.3" width="3.6" height="3.6" fill="#fff" stroke="#e02424" stroke-width="0.9"/>
<rect x="232.39999999999998" y="261.9" width="3.6" height="3.6" fill="#fff" stroke="#e02424" stroke-width="0.9"/>
<rect x="243.29999999999998" y="276.59999999999997" width="3.6" height="3.6" fill="#fff" stroke="#e02424" stroke-width="0.9"/>
<path d="M110.6 305.0 L118.6 284.0 L133.0 228.4 L147.1 241.6 L161.5 234.3 L168.9 217.1" fill="none" stroke="#237a2a" stroke-width="1.4" stroke-linejoin="round"/>
<path d="M110.6 302.8 L112.6 306.4 L108.6 306.4 Z" fill="#237a2a"/>
<path d="M118.6 281.8 L120.6 285.4 L116.6 285.4 Z" fill="#237a2a"/>
<path d="M133 226.20000000000002 L135 229.8 L131 229.8 Z" fill="#237a2a"/>
<path d="M147.1 239.4 L149.1 243.0 L145.1 243.0 Z" fill="#237a2a"/>
<path d="M161.5 232.10000000000002 L163.5 235.70000000000002 L159.5 235.70000000000002 Z" fill="#237a2a"/>
<path d="M168.9 214.9 L170.9 218.5 L166.9 218.5 Z" fill="#237a2a"/>
<path d="M110.6 304.5 L118.6 277.0 L133.0 236.8 L147.1 238.8 L161.5 229.6" fill="none" stroke="#1c1cd8" stroke-width="1.4" stroke-linejoin="round"/>
<path d="M110.6 302.5 L112.6 306.0 L108.6 306.0 Z" fill="#fff" stroke="#1c1cd8" stroke-width="0.9"/>
<path d="M118.6 275 L120.6 278.5 L116.6 278.5 Z" fill="#fff" stroke="#1c1cd8" stroke-width="0.9"/>
<path d="M133 234.8 L135 238.3 L131 238.3 Z" fill="#fff" stroke="#1c1cd8" stroke-width="0.9"/>
<path d="M147.1 236.8 L149.1 240.3 L145.1 240.3 Z" fill="#fff" stroke="#1c1cd8" stroke-width="0.9"/>
<path d="M161.5 227.6 L163.5 231.1 L159.5 231.1 Z" fill="#fff" stroke="#1c1cd8" stroke-width="0.9"/>
<line x1="186.0" y1="196.6" x2="193.0" y2="196.6" stroke="#111111" stroke-width="1.1"/>
<circle cx="189.5" cy="196.6" r="1.9" fill="#111111"/>
<text x="195.5" y="199.6" font-size="8.5" font-family="'Liberation Sans', sans-serif" fill="#333">TCD-BM</text>
<line x1="186.0" y1="208.35" x2="193.0" y2="208.35" stroke="#1c1cd8" stroke-width="1.1"/>
<path d="M189.5 206.35 L191.5 209.85 L187.5 209.85 Z" fill="#fff" stroke="#1c1cd8" stroke-width="0.9"/>
<text x="195.5" y="211.35" font-size="8.5" font-family="'Liberation Sans', sans-serif" fill="#333">Tc+PBS</text>
<line x1="186.0" y1="220.1" x2="193.0" y2="220.1" stroke="#237a2a" stroke-width="1.1"/>
<path d="M189.5 217.9 L191.5 221.5 L187.5 221.5 Z" fill="#237a2a"/>
<text x="195.5" y="223.1" font-size="8.5" font-family="'Liberation Sans', sans-serif" fill="#333">Tc+R</text>
<line x1="186.0" y1="231.85" x2="193.0" y2="231.85" stroke="#e02424" stroke-width="1.1"/>
<rect x="187.7" y="230.04999999999998" width="3.6" height="3.6" fill="#fff" stroke="#e02424" stroke-width="0.9"/>
<text x="195.5" y="234.85" font-size="8.5" font-family="'Liberation Sans', sans-serif" fill="#333">Tr:Tc 1:4+PBS</text>
<line x1="186.0" y1="243.6" x2="193.0" y2="243.6" stroke="#7a35b0" stroke-width="1.1"/>
<path d="M189.5 241.6 L191.7 243.6 L189.5 245.6 L187.3 243.6 Z" fill="#fff" stroke="#7a35b0" stroke-width="0.9"/>
<text x="195.5" y="246.6" font-size="8.5" font-family="'Liberation Sans', sans-serif" fill="#333">Tr:Tc 1:4 + R</text>
<text x="260.8" y="186.6" font-size="11.2" font-weight="bold" font-family="'Liberation Sans', sans-serif" fill="#111">C</text>
<text transform="translate(285.8,242) rotate(-90)" font-size="10" font-weight="bold" text-anchor="middle" font-family="'Liberation Sans', sans-serif" fill="#111">photons/sec/mouse</text>
<line x1="317.8" y1="310.50" x2="320.3" y2="310.50" stroke="#111" stroke-width="1"/>
<text x="317.3" y="313.10" font-size="7.7" font-weight="normal" text-anchor="end" font-family="'Liberation Sans', sans-serif" fill="#555">0</text>
<line x1="317.8" y1="290.75" x2="320.3" y2="290.75" stroke="#111" stroke-width="1"/>
<text x="317.3" y="293.35" font-size="7.7" font-weight="normal" text-anchor="end" font-family="'Liberation Sans', sans-serif" fill="#555" letter-spacing="-0.15">2.5×10<tspan font-size="4.6" dy="-2.4">6</tspan></text>
<line x1="317.8" y1="271.00" x2="320.3" y2="271.00" stroke="#111" stroke-width="1"/>
<text x="317.3" y="273.60" font-size="7.7" font-weight="normal" text-anchor="end" font-family="'Liberation Sans', sans-serif" fill="#555" letter-spacing="-0.15">5.0×10<tspan font-size="4.6" dy="-2.4">6</tspan></text>
<line x1="317.8" y1="251.25" x2="320.3" y2="251.25" stroke="#111" stroke-width="1"/>
<text x="317.3" y="253.85" font-size="7.7" font-weight="normal" text-anchor="end" font-family="'Liberation Sans', sans-serif" fill="#555" letter-spacing="-0.15">7.5×10<tspan font-size="4.6" dy="-2.4">6</tspan></text>
<line x1="317.8" y1="231.50" x2="320.3" y2="231.50" stroke="#111" stroke-width="1"/>
<text x="317.3" y="234.10" font-size="7.7" font-weight="normal" text-anchor="end" font-family="'Liberation Sans', sans-serif" fill="#555" letter-spacing="-0.15">1.0×10<tspan font-size="4.6" dy="-2.4">7</tspan></text>
<line x1="317.8" y1="211.75" x2="320.3" y2="211.75" stroke="#111" stroke-width="1"/>
<text x="317.3" y="214.35" font-size="7.7" font-weight="normal" text-anchor="end" font-family="'Liberation Sans', sans-serif" fill="#555" letter-spacing="-0.15">1.3×10<tspan font-size="4.6" dy="-2.4">7</tspan></text>
<line x1="317.8" y1="192.00" x2="320.3" y2="192.00" stroke="#111" stroke-width="1"/>
<text x="317.3" y="194.60" font-size="7.7" font-weight="normal" text-anchor="end" font-family="'Liberation Sans', sans-serif" fill="#555" letter-spacing="-0.15">1.5×10<tspan font-size="4.6" dy="-2.4">7</tspan></text>
<line x1="320.3" y1="191.5" x2="320.3" y2="311.5" stroke="#111" stroke-width="1.8"/>
<line x1="319.40000000000003" y1="310.5" x2="468.5" y2="310.5" stroke="#111" stroke-width="1.8"/>
<line x1="328" y1="310.5" x2="328" y2="313.1" stroke="#111" stroke-width="1"/>
<text x="328" y="327.0" font-size="10" font-weight="bold" text-anchor="middle" font-family="'Liberation Sans', sans-serif" fill="#111">2</text>
<line x1="372.1" y1="310.5" x2="372.1" y2="313.1" stroke="#111" stroke-width="1"/>
<text x="372.1" y="327.0" font-size="10" font-weight="bold" text-anchor="middle" font-family="'Liberation Sans', sans-serif" fill="#111">14</text>
<line x1="415.3" y1="310.5" x2="415.3" y2="313.1" stroke="#111" stroke-width="1"/>
<text x="415.3" y="327.0" font-size="10" font-weight="bold" text-anchor="middle" font-family="'Liberation Sans', sans-serif" fill="#111">26</text>
<line x1="459.7" y1="310.5" x2="459.7" y2="313.1" stroke="#111" stroke-width="1"/>
<text x="459.7" y="327.0" font-size="10" font-weight="bold" text-anchor="middle" font-family="'Liberation Sans', sans-serif" fill="#111">38</text>
<text x="394" y="335.2" font-size="7" font-weight="bold" text-anchor="middle" font-family="'Liberation Sans', sans-serif" fill="#222">Time after BMT (days)</text>
<path d="M335.5 264 V292 M333.1 264 H337.9 M333.1 292 H337.9" stroke="#484848" stroke-width="0.9" fill="none"/>
<path d="M349.5 209 V247 M347.1 209 H351.9 M347.1 247 H351.9" stroke="#484848" stroke-width="0.9" fill="none"/>
<path d="M364.5 231 V252.8 M362.1 231 H366.9 M362.1 252.8 H366.9" stroke="#484848" stroke-width="0.9" fill="none"/>
<path d="M378.5 216.6 V250.5 M376.1 216.6 H380.9 M376.1 250.5 H380.9" stroke="#484848" stroke-width="0.9" fill="none"/>
<path d="M349.5 264 V284.4 M347.1 264 H351.9 M347.1 284.4 H351.9" stroke="#484848" stroke-width="0.9" fill="none"/>
<path d="M364.5 254 V263.4 M362.1 254 H366.9 M362.1 263.4 H366.9" stroke="#484848" stroke-width="0.9" fill="none"/>
<path d="M378.5 240 V288 M376.1 240 H380.9 M376.1 288 H380.9" stroke="#484848" stroke-width="0.9" fill="none"/>
<path d="M386.5 235.3 V264.5 M384.1 235.3 H388.9 M384.1 264.5 H388.9" stroke="#484848" stroke-width="0.9" fill="none"/>
<path d="M404.5 256.8 V270 M402.1 256.8 H406.9 M402.1 270 H406.9" stroke="#484848" stroke-width="0.9" fill="none"/>
<path d="M415.5 253.6 V285.6 M413.1 253.6 H417.9 M413.1 285.6 H417.9" stroke="#484848" stroke-width="0.9" fill="none"/>
<path d="M429.5 256.8 V271.6 M427.1 256.8 H431.9 M427.1 271.6 H431.9" stroke="#484848" stroke-width="0.9" fill="none"/>
<path d="M451.5 243.5 V256.4 M449.1 243.5 H453.9 M449.1 256.4 H453.9" stroke="#484848" stroke-width="0.9" fill="none"/>
<path d="M463.5 248 V254 M461.1 248 H465.9 M461.1 254 H465.9" stroke="#484848" stroke-width="0.9" fill="none"/>
<path d="M349.5 278.6 V288 M347.1 278.6 H351.9 M347.1 288 H351.9" stroke="#484848" stroke-width="0.9" fill="none"/>
<path d="M364.5 270.9 V282 M362.1 270.9 H366.9 M362.1 282 H366.9" stroke="#484848" stroke-width="0.9" fill="none"/>
<path d="M386.5 270 V283.2 M384.1 270 H388.9 M384.1 283.2 H388.9" stroke="#484848" stroke-width="0.9" fill="none"/>
<path d="M404.5 281 V287 M402.1 281 H406.9 M402.1 287 H406.9" stroke="#484848" stroke-width="0.9" fill="none"/>
<path d="M429.5 274 V287.2 M427.1 274 H431.9 M427.1 287.2 H431.9" stroke="#484848" stroke-width="0.9" fill="none"/>
<path d="M451.5 269.2 V277.4 M449.1 269.2 H453.9 M449.1 277.4 H453.9" stroke="#484848" stroke-width="0.9" fill="none"/>
<path d="M463.5 282 V288 M461.1 282 H465.9 M461.1 288 H465.9" stroke="#484848" stroke-width="0.9" fill="none"/>
<path d="M326.5 300 V308 M324.1 300 H328.9 M324.1 308 H328.9" stroke="#484848" stroke-width="0.9" fill="none"/>
<path d="M326.8 307.8 L335.2 307.8 L349.5 307.8 L364.1 307.8 L378.7 307.6 L386.2 307.8 L404.1 307.6 L415.5 307.8 L429.6 307.9 L451.8 306.7 L463.0 307.2" fill="none" stroke="#111111" stroke-width="1.0" stroke-linejoin="round"/>
<circle cx="326.8" cy="307.8" r="1.9" fill="#111111"/>
<circle cx="335.2" cy="307.8" r="1.9" fill="#111111"/>
<circle cx="349.5" cy="307.8" r="1.9" fill="#111111"/>
<circle cx="364.1" cy="307.8" r="1.9" fill="#111111"/>
<circle cx="378.7" cy="307.6" r="1.9" fill="#111111"/>
<circle cx="386.2" cy="307.8" r="1.9" fill="#111111"/>
<circle cx="404.1" cy="307.6" r="1.9" fill="#111111"/>
<circle cx="415.5" cy="307.8" r="1.9" fill="#111111"/>
<circle cx="429.6" cy="307.9" r="1.9" fill="#111111"/>
<circle cx="451.8" cy="306.7" r="1.9" fill="#111111"/>
<circle cx="463" cy="307.2" r="1.9" fill="#111111"/>
<path d="M326.8 304.8 L335.2 292.6 L349.5 282.5 L364.1 276.2 L378.7 284.4 L386.2 276.7 L404.1 284.0 L415.5 274.6 L429.6 279.3 L451.8 273.4 L463.0 285.6" fill="none" stroke="#7a35b0" stroke-width="1.4" stroke-linejoin="round"/>
<path d="M326.8 302.8 L329.0 304.8 L326.8 306.8 L324.6 304.8 Z" fill="#fff" stroke="#7a35b0" stroke-width="0.9"/>
<path d="M335.2 290.6 L337.4 292.6 L335.2 294.6 L333.0 292.6 Z" fill="#fff" stroke="#7a35b0" stroke-width="0.9"/>
<path d="M349.5 280.5 L351.7 282.5 L349.5 284.5 L347.3 282.5 Z" fill="#fff" stroke="#7a35b0" stroke-width="0.9"/>
<path d="M364.1 274.2 L366.3 276.2 L364.1 278.2 L361.90000000000003 276.2 Z" fill="#fff" stroke="#7a35b0" stroke-width="0.9"/>
<path d="M378.7 282.4 L380.9 284.4 L378.7 286.4 L376.5 284.4 Z" fill="#fff" stroke="#7a35b0" stroke-width="0.9"/>
<path d="M386.2 274.7 L388.4 276.7 L386.2 278.7 L384.0 276.7 Z" fill="#fff" stroke="#7a35b0" stroke-width="0.9"/>
<path d="M404.1 282 L406.3 284 L404.1 286 L401.90000000000003 284 Z" fill="#fff" stroke="#7a35b0" stroke-width="0.9"/>
<path d="M415.5 272.6 L417.7 274.6 L415.5 276.6 L413.3 274.6 Z" fill="#fff" stroke="#7a35b0" stroke-width="0.9"/>
<path d="M429.6 277.3 L431.8 279.3 L429.6 281.3 L427.40000000000003 279.3 Z" fill="#fff" stroke="#7a35b0" stroke-width="0.9"/>
<path d="M451.8 271.4 L454.0 273.4 L451.8 275.4 L449.6 273.4 Z" fill="#fff" stroke="#7a35b0" stroke-width="0.9"/>
<path d="M463 283.6 L465.2 285.6 L463 287.6 L460.8 285.6 Z" fill="#fff" stroke="#7a35b0" stroke-width="0.9"/>
<path d="M326.8 304.3 L335.2 285.6 L349.5 273.9 L364.1 258.7 L378.7 260.3 L386.2 249.6 L404.1 262.7 L415.5 263.1 L429.6 263.8 L451.8 249.8 L463.0 251.0" fill="none" stroke="#e02424" stroke-width="1.4" stroke-linejoin="round"/>
<rect x="325.0" y="302.5" width="3.6" height="3.6" fill="#fff" stroke="#e02424" stroke-width="0.9"/>
<rect x="333.4" y="283.8" width="3.6" height="3.6" fill="#fff" stroke="#e02424" stroke-width="0.9"/>
<rect x="347.7" y="272.09999999999997" width="3.6" height="3.6" fill="#fff" stroke="#e02424" stroke-width="0.9"/>
<rect x="362.3" y="256.9" width="3.6" height="3.6" fill="#fff" stroke="#e02424" stroke-width="0.9"/>
<rect x="376.9" y="258.5" width="3.6" height="3.6" fill="#fff" stroke="#e02424" stroke-width="0.9"/>
<rect x="384.4" y="247.79999999999998" width="3.6" height="3.6" fill="#fff" stroke="#e02424" stroke-width="0.9"/>
<rect x="402.3" y="260.9" width="3.6" height="3.6" fill="#fff" stroke="#e02424" stroke-width="0.9"/>
<rect x="413.7" y="261.3" width="3.6" height="3.6" fill="#fff" stroke="#e02424" stroke-width="0.9"/>
<rect x="427.8" y="262.0" width="3.6" height="3.6" fill="#fff" stroke="#e02424" stroke-width="0.9"/>
<rect x="450.0" y="248.0" width="3.6" height="3.6" fill="#fff" stroke="#e02424" stroke-width="0.9"/>
<rect x="461.2" y="249.2" width="3.6" height="3.6" fill="#fff" stroke="#e02424" stroke-width="0.9"/>
<path d="M326.8 304.8 L335.2 279.0 L349.5 227.1 L364.1 240.6 L378.7 232.9 L386.2 215.4" fill="none" stroke="#237a2a" stroke-width="1.4" stroke-linejoin="round"/>
<path d="M326.8 302.6 L328.8 306.2 L324.8 306.2 Z" fill="#237a2a"/>
<path d="M335.2 276.8 L337.2 280.4 L333.2 280.4 Z" fill="#237a2a"/>
<path d="M349.5 224.9 L351.5 228.5 L347.5 228.5 Z" fill="#237a2a"/>
<path d="M364.1 238.4 L366.1 242.0 L362.1 242.0 Z" fill="#237a2a"/>
<path d="M378.7 230.70000000000002 L380.7 234.3 L376.7 234.3 Z" fill="#237a2a"/>
<path d="M386.2 213.20000000000002 L388.2 216.8 L384.2 216.8 Z" fill="#237a2a"/>
<path d="M326.8 304.3 L335.2 274.0 L349.5 235.3 L364.1 236.4 L378.7 227.8" fill="none" stroke="#1c1cd8" stroke-width="1.4" stroke-linejoin="round"/>
<path d="M326.8 302.3 L328.8 305.8 L324.8 305.8 Z" fill="#fff" stroke="#1c1cd8" stroke-width="0.9"/>
<path d="M335.2 272 L337.2 275.5 L333.2 275.5 Z" fill="#fff" stroke="#1c1cd8" stroke-width="0.9"/>
<path d="M349.5 233.3 L351.5 236.8 L347.5 236.8 Z" fill="#fff" stroke="#1c1cd8" stroke-width="0.9"/>
<path d="M364.1 234.4 L366.1 237.9 L362.1 237.9 Z" fill="#fff" stroke="#1c1cd8" stroke-width="0.9"/>
<path d="M378.7 225.8 L380.7 229.3 L376.7 229.3 Z" fill="#fff" stroke="#1c1cd8" stroke-width="0.9"/>
<line x1="402.8" y1="185.3" x2="409.8" y2="185.3" stroke="#111111" stroke-width="1.1"/>
<circle cx="406.3" cy="185.3" r="1.9" fill="#111111"/>
<text x="412.3" y="188.3" font-size="8.5" font-family="'Liberation Sans', sans-serif" fill="#333">TCD-BM</text>
<line x1="402.8" y1="197.05" x2="409.8" y2="197.05" stroke="#1c1cd8" stroke-width="1.1"/>
<path d="M406.3 195.05 L408.3 198.55 L404.3 198.55 Z" fill="#fff" stroke="#1c1cd8" stroke-width="0.9"/>
<text x="412.3" y="200.05" font-size="8.5" font-family="'Liberation Sans', sans-serif" fill="#333">Tc+PBS</text>
<line x1="402.8" y1="208.8" x2="409.8" y2="208.8" stroke="#237a2a" stroke-width="1.1"/>
<path d="M406.3 206.60000000000002 L408.3 210.20000000000002 L404.3 210.20000000000002 Z" fill="#237a2a"/>
<text x="412.3" y="211.8" font-size="8.5" font-family="'Liberation Sans', sans-serif" fill="#333">Tc+R</text>
<line x1="402.8" y1="220.55" x2="409.8" y2="220.55" stroke="#e02424" stroke-width="1.1"/>
<rect x="404.5" y="218.75" width="3.6" height="3.6" fill="#fff" stroke="#e02424" stroke-width="0.9"/>
<text x="412.3" y="223.55" font-size="8.5" font-family="'Liberation Sans', sans-serif" fill="#333">Tr:Tc 1:8+PBS</text>
<line x1="402.8" y1="232.3" x2="409.8" y2="232.3" stroke="#7a35b0" stroke-width="1.1"/>
<path d="M406.3 230.3 L408.5 232.3 L406.3 234.3 L404.1 232.3 Z" fill="#fff" stroke="#7a35b0" stroke-width="0.9"/>
<text x="412.3" y="235.3" font-size="8.5" font-family="'Liberation Sans', sans-serif" fill="#333">Tr:Tc 1:8 + R</text>
</svg></body></html>
